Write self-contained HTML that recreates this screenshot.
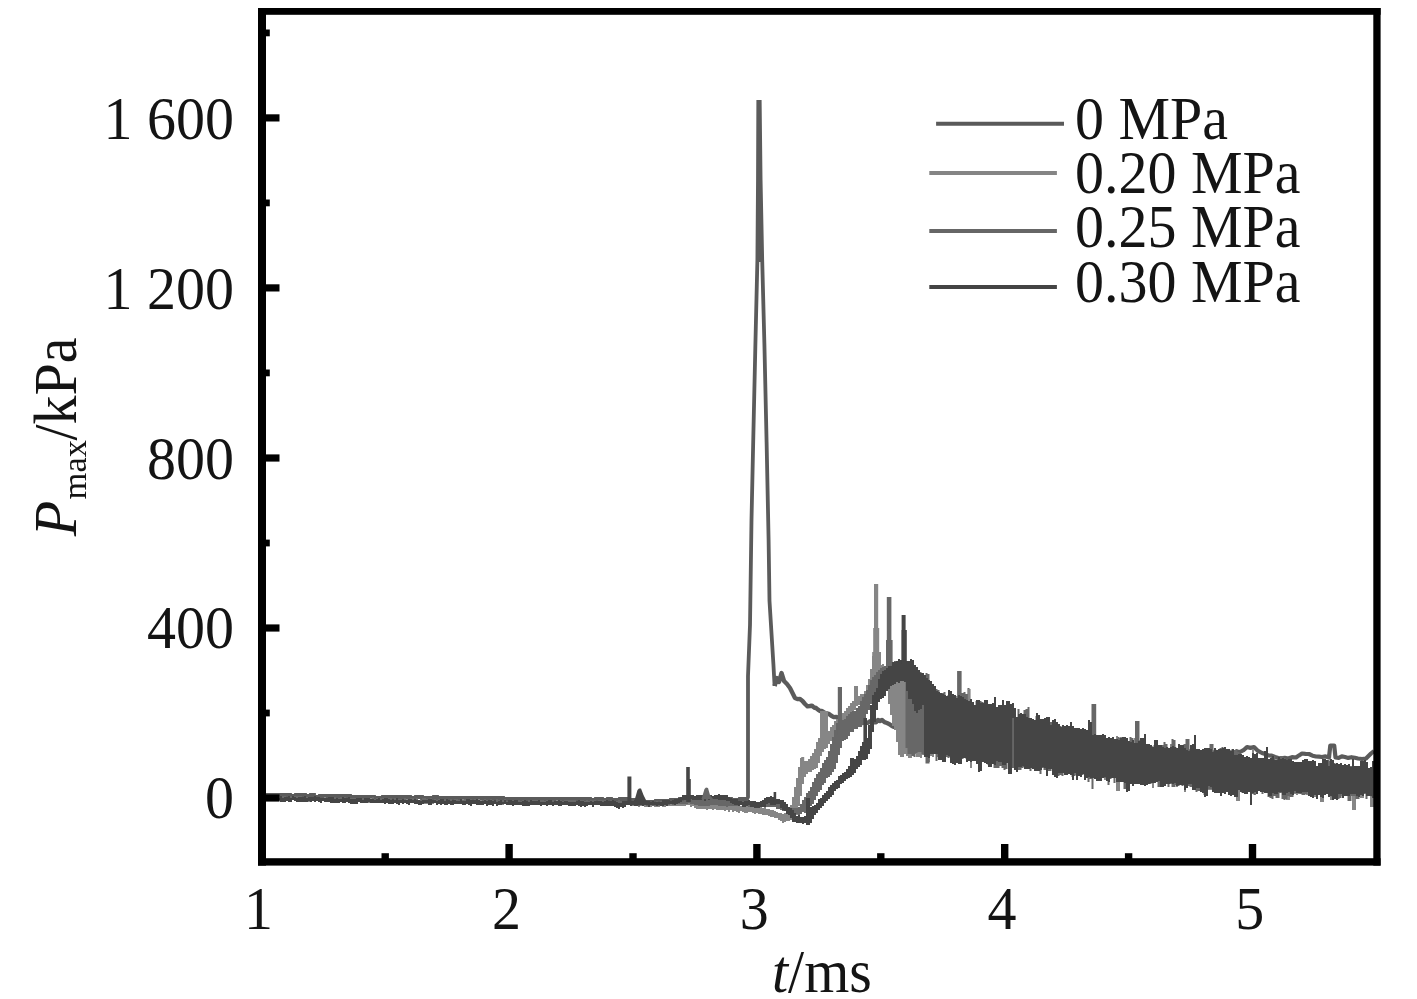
<!DOCTYPE html>
<html lang="en">
<head>
<meta charset="utf-8">
<title>Pmax versus t</title>
<style>
html,body{margin:0;padding:0;background:#fff;}
body{width:1417px;height:999px;overflow:hidden;}
svg{display:block;}
</style>
</head>
<body>
<svg width="1417" height="999" viewBox="0 0 1417 999" font-family='"Liberation Serif", "Times New Roman", serif' font-size="58" fill="#141414">
<rect x="0" y="0" width="1417" height="999" fill="#ffffff"/>
<g>
<polygon points="757.0,262.0 757.6,180.0 758.3,101.0 759.7,101.0 761.0,180.0 762.6,262.0" fill="#5b5b5b"/>
<polyline points="266.0,795.0 269.0,795.0 269.0,795.0 272.0,795.0 272.0,796.0 275.0,796.0 275.0,795.0 278.0,795.0 278.0,795.0 281.0,795.0 281.0,795.0 284.0,795.0 284.0,795.0 287.0,795.0 287.0,795.0 290.0,795.0 290.0,796.0 293.0,796.0 293.0,796.0 296.0,796.0 296.0,795.0 299.0,795.0 299.0,795.0 302.0,795.0 302.0,795.0 305.0,795.0 305.0,796.0 308.0,796.0 308.0,796.0 311.0,796.0 311.0,795.0 314.0,795.0 314.0,797.0 317.0,797.0 317.0,797.0 320.0,797.0 320.0,796.0 323.0,796.0 323.0,796.0 326.0,796.0 326.0,796.0 329.0,796.0 329.0,796.0 332.0,796.0 332.0,796.0 335.0,796.0 335.0,796.0 338.0,796.0 338.0,796.0 341.0,796.0 341.0,796.0 344.0,796.0 344.0,796.0 347.0,796.0 347.0,796.0 350.0,796.0 350.0,797.0 353.0,797.0 353.0,797.0 356.0,797.0 356.0,797.0 359.0,797.0 359.0,797.0 362.0,797.0 362.0,797.0 365.0,797.0 365.0,797.0 368.0,797.0 368.0,797.0 371.0,797.0 371.0,797.0 374.0,797.0 374.0,798.0 377.0,798.0 377.0,798.0 380.0,798.0 380.0,798.0 383.0,798.0 383.0,797.0 386.0,797.0 386.0,797.0 389.0,797.0 389.0,797.0 392.0,797.0 392.0,797.0 395.0,797.0 395.0,797.0 398.0,797.0 398.0,798.0 401.0,798.0 401.0,797.0 404.0,797.0 404.0,798.0 407.0,798.0 407.0,797.0 410.0,797.0 410.0,798.0 413.0,798.0 413.0,798.0 416.0,798.0 416.0,797.0 419.0,797.0 419.0,797.0 422.0,797.0 422.0,798.0 425.0,798.0 425.0,798.0 428.0,798.0 428.0,798.0 431.0,798.0 431.0,798.0 434.0,798.0 434.0,797.0 437.0,797.0 437.0,798.0 440.0,798.0 440.0,798.0 443.0,798.0 443.0,798.0 446.0,798.0 446.0,798.0 449.0,798.0 449.0,798.0 452.0,798.0 452.0,799.0 455.0,799.0 455.0,798.0 458.0,798.0 458.0,798.0 461.0,798.0 461.0,798.0 464.0,798.0 464.0,798.0 467.0,798.0 467.0,798.0 470.0,798.0 470.0,799.0 473.0,799.0 473.0,798.0 476.0,798.0 476.0,799.0 479.0,799.0 479.0,798.0 482.0,798.0 482.0,798.0 485.0,798.0 485.0,799.0 488.0,799.0 488.0,798.0 491.0,798.0 491.0,799.0 494.0,799.0 494.0,798.0 497.0,798.0 497.0,799.0 500.0,799.0 500.0,798.0 503.0,798.0 503.0,799.0 506.0,799.0 506.0,799.0 509.0,799.0 509.0,799.0 512.0,799.0 512.0,799.0 515.0,799.0 515.0,799.0 518.0,799.0 518.0,799.0 521.0,799.0 521.0,799.0 524.0,799.0 524.0,799.0 527.0,799.0 527.0,799.0 530.0,799.0 530.0,799.0 533.0,799.0 533.0,800.0 536.0,800.0 536.0,799.0 539.0,799.0 539.0,799.0 542.0,799.0 542.0,799.0 545.0,799.0 545.0,799.0 548.0,799.0 548.0,799.0 551.0,799.0 551.0,799.0 554.0,799.0 554.0,799.0 557.0,799.0 557.0,799.0 560.0,799.0 560.0,799.0 563.0,799.0 563.0,799.0 566.0,799.0 566.0,799.0 569.0,799.0 569.0,799.0 572.0,799.0 572.0,800.0 575.0,800.0 575.0,799.0 578.0,799.0 578.0,799.0 581.0,799.0 581.0,800.0 584.0,800.0 584.0,799.0 587.0,799.0 587.0,799.0 590.0,799.0 590.0,800.0 593.0,800.0 593.0,800.0 596.0,800.0 596.0,799.0 599.0,799.0 599.0,799.0 602.0,799.0 602.0,800.0 605.0,800.0 605.0,800.0 608.0,800.0 608.0,799.0 611.0,799.0 611.0,800.0 614.0,800.0 614.0,800.0 617.0,800.0 617.0,800.0 620.0,800.0 620.0,799.0 623.0,799.0 623.0,799.0 626.0,799.0 626.0,799.0 629.0,799.0 629.0,801.0 632.0,801.0 632.0,800.0 635.0,800.0 635.0,801.0 638.0,801.0 638.0,801.0 641.0,801.0 641.0,802.0 644.0,802.0 644.0,802.0 647.0,802.0 647.0,802.0 650.0,802.0 650.0,802.0 653.0,802.0 653.0,802.0 656.0,802.0 656.0,801.0 659.0,801.0 659.0,801.0 662.0,801.0 662.0,801.0 665.0,801.0 665.0,801.0 668.0,801.0 668.0,801.0 671.0,801.0 671.0,800.0 674.0,800.0 674.0,801.0 677.0,801.0 677.0,800.0 680.0,800.0 680.0,799.0 683.0,799.0 683.0,800.0 686.0,800.0 686.0,800.0 689.0,800.0 689.0,799.0 692.0,799.0 692.0,799.0 695.0,799.0 695.0,799.0 698.0,799.0 698.0,799.0 701.0,799.0 701.0,799.0 704.0,799.0 704.0,799.0 707.0,799.0 707.0,800.0 710.0,800.0 710.0,800.0 713.0,800.0 713.0,799.0 716.0,799.0 716.0,799.0 719.0,799.0 719.0,799.0 722.0,799.0 722.0,799.0 725.0,799.0 725.0,799.0 728.0,799.0 728.0,799.0 731.0,799.0 731.0,800.0 734.0,800.0 734.0,800.0 737.0,800.0 737.0,800.0 740.0,800.0 740.0,799.0 743.0,799.0 743.0,800.0 746.0,800.0 746.0,799.0 747.0,799.0 748.0,797.0 748.0,676.0 750.0,625.0 751.5,520.0 753.2,442.0 755.4,344.0 757.4,260.0 758.0,180.0 758.3,102.0 759.7,102.0 760.6,180.0 762.2,260.0 764.4,344.0 766.6,442.0 768.6,540.0 769.5,601.0 773.4,664.0 774.6,686.0" fill="none" stroke="#5b5b5b" stroke-width="3.8" stroke-linejoin="miter" stroke-miterlimit="2" stroke-linecap="butt"/>
<polyline points="774.6,686.0 777.0,678.0 779.0,682.0 781.5,673.0 784.0,681.0 787.0,684.0 790.0,688.0 793.0,694.0 795.0,698.0 797.5,699.1 800.0,699.0 802.5,701.0 805.0,704.0 807.5,706.3 810.0,706.0 812.0,705.6 814.0,707.5 816.0,708.0 818.0,709.6 820.0,711.0 822.0,711.0 824.3,712.6 826.7,713.5 829.0,714.0 831.3,715.8 833.7,717.1 836.0,717.0 838.3,717.6 840.7,719.5 843.0,720.0 845.3,721.4 847.7,721.6 850.0,721.0 852.0,721.1 854.0,722.4 856.0,722.9 858.0,722.5 860.0,723.0 862.0,723.0 864.0,722.5 866.0,722.9 868.0,722.8 870.0,721.2 872.0,722.5 874.0,722.0 876.0,722.3 878.0,720.0 880.0,721.0 882.0,720.0 884.5,722.1 887.0,723.0 889.5,724.2 892.0,726.0 894.0,726.9 896.0,726.7 898.0,726.6 900.0,727.0" fill="none" stroke="#5b5b5b" stroke-width="4.4" stroke-linejoin="round" stroke-miterlimit="2" stroke-linecap="butt"/>
<polyline points="900.0,727.0 903.0,727.9 906.1,726.9 909.1,728.4 912.1,727.4 915.2,728.7 918.2,728.8 921.2,728.6 924.2,729.8 927.3,729.7 930.3,730.2 933.3,731.1 936.4,730.2 939.4,730.1 942.4,730.9 945.5,731.9 948.5,731.3 951.5,731.6 954.5,733.2 957.6,733.0 960.6,733.0 963.6,734.1 966.7,733.4 969.7,734.3 972.7,733.7 975.8,734.5 978.8,735.4 981.8,735.9 984.8,736.2 987.9,735.6 990.9,736.2 993.9,736.1 997.0,736.0 1000.0,737.0 1003.0,737.2 1006.1,738.1 1009.1,738.4 1012.1,738.3 1015.2,739.0 1018.2,738.1 1021.2,738.1 1024.2,738.9 1027.3,738.8 1030.3,738.9 1033.3,739.5 1036.4,740.1 1039.4,740.1 1042.4,740.1 1045.5,741.2 1048.5,741.7 1051.5,741.0 1054.5,740.6 1057.6,740.8 1060.6,742.5 1063.6,741.3 1066.7,742.7 1069.7,742.7 1072.7,742.5 1075.8,743.6 1078.8,742.4 1081.8,742.9 1084.8,743.7 1087.9,743.2 1090.9,744.9 1093.9,744.0 1097.0,744.1 1100.0,745.0 1103.0,744.4 1106.1,745.7 1109.1,745.5 1112.1,746.1 1115.2,746.3 1118.2,746.8 1121.2,747.3 1124.2,747.0 1127.3,746.4 1130.3,747.1 1133.3,746.8 1136.4,746.7 1139.4,747.7 1142.4,748.4 1145.5,747.6 1148.5,748.0 1151.5,748.3 1154.5,749.2 1157.6,749.1 1160.6,749.4 1163.6,749.9 1166.7,749.5 1169.7,750.4 1172.7,750.8 1175.8,749.6 1178.8,751.3 1181.8,751.1 1184.8,750.3 1187.9,751.1 1190.9,751.6 1193.9,752.3 1197.0,751.6 1200.0,752.0 1203.1,752.1 1206.2,752.7 1209.2,752.5 1212.3,752.8 1215.4,751.9 1218.5,752.3 1221.5,751.5 1224.6,752.4 1227.7,752.6 1230.8,752.3 1233.8,752.4 1236.9,751.5 1240.0,752.0 1243.5,750.2 1247.0,747.0 1250.5,747.9 1254.0,747.0 1258.0,750.9 1262.0,753.0 1265.2,754.1 1268.5,755.5 1271.8,755.7 1275.0,757.0 1278.2,758.1 1281.5,758.4 1284.8,757.9 1288.0,758.5 1292.0,757.2 1296.0,757.5 1299.0,755.4 1302.0,753.5 1305.5,753.8 1309.0,754.0 1312.5,755.7 1316.0,756.5 1319.0,756.7 1322.0,757.0 1325.5,756.4 1329.0,757.5 1330.3,745.5 1334.2,745.5 1335.5,757.5 1338.7,757.9 1341.8,756.4 1345.0,757.0 1348.2,757.9 1351.5,757.2 1354.8,757.8 1358.0,758.5 1362.0,759.0 1366.0,758.5 1371.0,753.5 1374.0,751.0" fill="none" stroke="#5b5b5b" stroke-width="4.2" stroke-linejoin="round" stroke-miterlimit="2" stroke-linecap="butt"/>
<polygon points="266.0,796.0 268.0,796.0 268.0,797.0 270.0,797.0 270.0,797.0 272.0,797.0 272.0,798.0 274.0,798.0 274.0,798.0 276.0,798.0 276.0,796.0 278.0,796.0 278.0,797.0 280.0,797.0 280.0,797.0 282.0,797.0 282.0,798.0 284.0,798.0 284.0,797.0 286.0,797.0 286.0,798.0 288.0,798.0 288.0,797.0 290.0,797.0 290.0,798.0 292.0,798.0 292.0,797.0 294.0,797.0 294.0,797.0 296.0,797.0 296.0,797.0 298.0,797.0 298.0,798.0 300.0,798.0 300.0,797.0 302.0,797.0 302.0,798.0 304.0,798.0 304.0,798.0 306.0,798.0 306.0,798.0 308.0,798.0 308.0,798.0 310.0,798.0 310.0,797.0 312.0,797.0 312.0,797.0 314.0,797.0 314.0,798.0 316.0,798.0 316.0,798.0 318.0,798.0 318.0,797.0 320.0,797.0 320.0,799.0 322.0,799.0 322.0,798.0 324.0,798.0 324.0,797.0 326.0,797.0 326.0,798.0 328.0,798.0 328.0,798.0 330.0,798.0 330.0,797.0 332.0,797.0 332.0,797.0 334.0,797.0 334.0,798.0 336.0,798.0 336.0,798.0 338.0,798.0 338.0,798.0 340.0,798.0 340.0,798.0 342.0,798.0 342.0,798.0 344.0,798.0 344.0,798.0 346.0,798.0 346.0,799.0 348.0,799.0 348.0,799.0 350.0,799.0 350.0,799.0 352.0,799.0 352.0,799.0 354.0,799.0 354.0,798.0 356.0,798.0 356.0,798.0 358.0,798.0 358.0,799.0 360.0,799.0 360.0,798.0 362.0,798.0 362.0,798.0 364.0,798.0 364.0,799.0 366.0,799.0 366.0,799.0 368.0,799.0 368.0,798.0 370.0,798.0 370.0,798.0 372.0,798.0 372.0,799.0 374.0,799.0 374.0,800.0 376.0,800.0 376.0,799.0 378.0,799.0 378.0,799.0 380.0,799.0 380.0,798.0 382.0,798.0 382.0,798.0 384.0,798.0 384.0,799.0 386.0,799.0 386.0,799.0 388.0,799.0 388.0,798.0 390.0,798.0 390.0,800.0 392.0,800.0 392.0,800.0 394.0,800.0 394.0,798.0 396.0,798.0 396.0,799.0 398.0,799.0 398.0,799.0 400.0,799.0 400.0,799.0 402.0,799.0 402.0,799.0 404.0,799.0 404.0,800.0 406.0,800.0 406.0,799.0 408.0,799.0 408.0,800.0 410.0,800.0 410.0,799.0 412.0,799.0 412.0,799.0 414.0,799.0 414.0,800.0 416.0,800.0 416.0,800.0 418.0,800.0 418.0,800.0 420.0,800.0 420.0,800.0 422.0,800.0 422.0,800.0 424.0,800.0 424.0,799.0 426.0,799.0 426.0,800.0 428.0,800.0 428.0,800.0 430.0,800.0 430.0,800.0 432.0,800.0 432.0,800.0 434.0,800.0 434.0,800.0 436.0,800.0 436.0,800.0 438.0,800.0 438.0,799.0 440.0,799.0 440.0,799.0 442.0,799.0 442.0,800.0 444.0,800.0 444.0,799.0 446.0,799.0 446.0,800.0 448.0,800.0 448.0,800.0 450.0,800.0 450.0,800.0 452.0,800.0 452.0,801.0 454.0,801.0 454.0,800.0 456.0,800.0 456.0,801.0 458.0,801.0 458.0,800.0 460.0,800.0 460.0,800.0 462.0,800.0 462.0,799.0 464.0,799.0 464.0,800.0 466.0,800.0 466.0,800.0 468.0,800.0 468.0,800.0 470.0,800.0 470.0,801.0 472.0,801.0 472.0,801.0 474.0,801.0 474.0,801.0 476.0,801.0 476.0,800.0 478.0,800.0 478.0,799.0 480.0,799.0 480.0,800.0 482.0,800.0 482.0,800.0 484.0,800.0 484.0,801.0 486.0,801.0 486.0,801.0 488.0,801.0 488.0,800.0 490.0,800.0 490.0,800.0 492.0,800.0 492.0,801.0 494.0,801.0 494.0,800.0 496.0,800.0 496.0,800.0 498.0,800.0 498.0,800.0 500.0,800.0 500.0,800.0 502.0,800.0 502.0,800.0 504.0,800.0 504.0,801.0 506.0,801.0 506.0,801.0 508.0,801.0 508.0,800.0 510.0,800.0 510.0,800.0 512.0,800.0 512.0,802.0 514.0,802.0 514.0,801.0 516.0,801.0 516.0,801.0 518.0,801.0 518.0,802.0 520.0,802.0 520.0,801.0 522.0,801.0 522.0,801.0 524.0,801.0 524.0,800.0 526.0,800.0 526.0,801.0 528.0,801.0 528.0,801.0 530.0,801.0 530.0,801.0 532.0,801.0 532.0,801.0 534.0,801.0 534.0,801.0 536.0,801.0 536.0,802.0 538.0,802.0 538.0,801.0 540.0,801.0 540.0,800.0 542.0,800.0 542.0,801.0 544.0,801.0 544.0,801.0 546.0,801.0 546.0,801.0 548.0,801.0 548.0,801.0 550.0,801.0 550.0,801.0 552.0,801.0 552.0,800.0 554.0,800.0 554.0,802.0 556.0,802.0 556.0,800.0 558.0,800.0 558.0,801.0 560.0,801.0 560.0,801.0 562.0,801.0 562.0,801.0 564.0,801.0 564.0,800.0 566.0,800.0 566.0,801.0 568.0,801.0 568.0,801.0 570.0,801.0 570.0,800.0 572.0,800.0 572.0,801.0 574.0,801.0 574.0,800.0 576.0,800.0 576.0,802.0 578.0,802.0 578.0,802.0 580.0,802.0 580.0,801.0 582.0,801.0 582.0,802.0 584.0,802.0 584.0,801.0 586.0,801.0 586.0,801.0 588.0,801.0 588.0,802.0 590.0,802.0 590.0,801.0 592.0,801.0 592.0,800.0 594.0,800.0 594.0,800.0 596.0,800.0 596.0,801.0 598.0,801.0 598.0,801.0 600.0,801.0 600.0,802.0 602.0,802.0 602.0,801.0 604.0,801.0 604.0,800.0 606.0,800.0 606.0,802.0 608.0,802.0 608.0,801.0 610.0,801.0 610.0,801.0 612.0,801.0 612.0,801.0 614.0,801.0 614.0,802.0 616.0,802.0 616.0,802.0 618.0,802.0 618.0,802.0 620.0,802.0 620.0,802.0 622.0,802.0 622.0,801.0 624.0,801.0 624.0,802.0 626.0,802.0 626.0,801.0 628.0,801.0 628.0,802.0 630.0,802.0 630.0,802.0 632.0,802.0 632.0,802.0 634.0,802.0 634.0,803.0 636.0,803.0 636.0,803.0 638.0,803.0 638.0,802.0 640.0,802.0 640.0,803.0 642.0,803.0 642.0,802.0 644.0,802.0 644.0,803.0 646.0,803.0 646.0,804.0 648.0,804.0 648.0,804.0 650.0,804.0 650.0,803.0 652.0,803.0 652.0,802.0 654.0,802.0 654.0,803.0 656.0,803.0 656.0,802.0 658.0,802.0 658.0,802.0 660.0,802.0 660.0,803.0 662.0,803.0 662.0,802.0 664.0,802.0 664.0,803.0 666.0,803.0 666.0,802.0 668.0,802.0 668.0,803.0 670.0,803.0 670.0,802.0 672.0,802.0 672.0,803.0 674.0,803.0 674.0,803.0 676.0,803.0 676.0,803.0 678.0,803.0 678.0,803.0 680.0,803.0 680.0,803.0 682.0,803.0 682.0,803.0 684.0,803.0 684.0,802.0 686.0,802.0 686.0,802.0 688.0,802.0 688.0,802.0 690.0,802.0 690.0,802.0 692.0,802.0 692.0,802.0 694.0,802.0 694.0,802.0 696.0,802.0 696.0,802.0 698.0,802.0 698.0,802.0 700.0,802.0 700.0,802.0 702.0,802.0 702.0,804.0 704.0,804.0 704.0,802.0 706.0,802.0 706.0,804.0 708.0,804.0 708.0,803.0 710.0,803.0 710.0,803.0 712.0,803.0 712.0,803.0 714.0,803.0 714.0,804.0 716.0,804.0 716.0,803.0 718.0,803.0 718.0,803.0 720.0,803.0 720.0,804.0 722.0,804.0 722.0,805.0 724.0,805.0 724.0,804.0 726.0,804.0 726.0,805.0 728.0,805.0 728.0,805.0 730.0,805.0 730.0,805.0 732.0,805.0 732.0,804.0 734.0,804.0 734.0,805.0 736.0,805.0 736.0,805.0 738.0,805.0 738.0,805.0 740.0,805.0 740.0,806.0 742.0,806.0 742.0,805.0 744.0,805.0 744.0,805.0 746.0,805.0 746.0,806.0 748.0,806.0 748.0,805.0 750.0,805.0 750.0,806.0 752.0,806.0 752.0,807.0 754.0,807.0 754.0,807.0 756.0,807.0 756.0,806.0 758.0,806.0 758.0,806.0 760.0,806.0 760.0,806.0 762.0,806.0 762.0,808.0 764.0,808.0 764.0,807.0 766.0,807.0 766.0,809.0 768.0,809.0 768.0,809.0 770.0,809.0 770.0,810.0 772.0,810.0 772.0,810.0 774.0,810.0 774.0,811.0 776.0,811.0 776.0,812.0 778.0,812.0 778.0,813.0 780.0,813.0 780.0,813.0 782.0,813.0 782.0,814.0 784.0,814.0 784.0,813.0 786.0,813.0 786.0,811.0 788.0,811.0 788.0,809.0 790.0,809.0 790.0,805.0 792.0,805.0 792.0,797.0 794.0,797.0 794.0,787.0 796.0,787.0 796.0,778.0 798.0,778.0 798.0,767.0 800.0,767.0 800.0,758.0 802.0,758.0 802.0,757.0 804.0,757.0 804.0,761.0 806.0,761.0 806.0,761.0 808.0,761.0 808.0,759.0 810.0,759.0 810.0,756.0 812.0,756.0 812.0,753.0 814.0,753.0 814.0,749.0 816.0,749.0 816.0,742.0 818.0,742.0 818.0,738.0 820.0,738.0 820.0,711.0 822.0,711.0 822.0,711.0 824.0,711.0 824.0,711.0 826.0,711.0 826.0,711.0 828.0,711.0 828.0,731.0 830.0,731.0 830.0,727.0 832.0,727.0 832.0,725.0 834.0,725.0 834.0,721.0 836.0,721.0 836.0,719.0 838.0,719.0 838.0,717.0 840.0,717.0 840.0,715.0 842.0,715.0 842.0,713.0 844.0,713.0 844.0,711.0 846.0,711.0 846.0,708.0 848.0,708.0 848.0,706.0 850.0,706.0 850.0,703.0 852.0,703.0 852.0,701.0 854.0,701.0 854.0,686.0 856.0,686.0 856.0,686.0 858.0,686.0 858.0,696.0 860.0,696.0 860.0,694.0 862.0,694.0 862.0,694.0 864.0,694.0 864.0,691.0 866.0,691.0 866.0,685.0 868.0,685.0 868.0,679.0 870.0,679.0 870.0,669.0 872.0,669.0 872.0,656.0 874.0,656.0 874.0,584.0 876.0,584.0 876.0,584.0 878.0,584.0 878.0,656.0 880.0,656.0 880.0,665.0 882.0,665.0 882.0,664.0 884.0,664.0 884.0,666.0 886.0,666.0 886.0,667.0 888.0,667.0 888.0,668.0 890.0,668.0 890.0,670.0 892.0,670.0 892.0,680.0 890.0,680.0 890.0,677.0 888.0,677.0 888.0,676.0 886.0,676.0 886.0,674.0 884.0,674.0 884.0,672.0 882.0,672.0 882.0,671.0 880.0,671.0 880.0,672.0 878.0,672.0 878.0,674.0 876.0,674.0 876.0,680.0 874.0,680.0 874.0,691.0 872.0,691.0 872.0,698.0 870.0,698.0 870.0,701.0 868.0,701.0 868.0,702.0 866.0,702.0 866.0,703.0 864.0,703.0 864.0,704.0 862.0,704.0 862.0,704.0 860.0,704.0 860.0,705.0 858.0,705.0 858.0,706.0 856.0,706.0 856.0,710.0 854.0,710.0 854.0,713.0 852.0,713.0 852.0,715.0 850.0,715.0 850.0,716.0 848.0,716.0 848.0,719.0 846.0,719.0 846.0,723.0 844.0,723.0 844.0,725.0 842.0,725.0 842.0,727.0 840.0,727.0 840.0,729.0 838.0,729.0 838.0,732.0 836.0,732.0 836.0,735.0 834.0,735.0 834.0,739.0 832.0,739.0 832.0,741.0 830.0,741.0 830.0,744.0 828.0,744.0 828.0,748.0 826.0,748.0 826.0,749.0 824.0,749.0 824.0,752.0 822.0,752.0 822.0,756.0 820.0,756.0 820.0,763.0 818.0,763.0 818.0,768.0 816.0,768.0 816.0,769.0 814.0,769.0 814.0,770.0 812.0,770.0 812.0,772.0 810.0,772.0 810.0,772.0 808.0,772.0 808.0,774.0 806.0,774.0 806.0,777.0 804.0,777.0 804.0,784.0 802.0,784.0 802.0,796.0 800.0,796.0 800.0,806.0 798.0,806.0 798.0,815.0 796.0,815.0 796.0,822.0 794.0,822.0 794.0,821.0 792.0,821.0 792.0,820.0 790.0,820.0 790.0,821.0 788.0,821.0 788.0,821.0 786.0,821.0 786.0,822.0 784.0,822.0 784.0,823.0 782.0,823.0 782.0,821.0 780.0,821.0 780.0,820.0 778.0,820.0 778.0,818.0 776.0,818.0 776.0,818.0 774.0,818.0 774.0,817.0 772.0,817.0 772.0,817.0 770.0,817.0 770.0,816.0 768.0,816.0 768.0,815.0 766.0,815.0 766.0,815.0 764.0,815.0 764.0,815.0 762.0,815.0 762.0,814.0 760.0,814.0 760.0,814.0 758.0,814.0 758.0,813.0 756.0,813.0 756.0,814.0 754.0,814.0 754.0,813.0 752.0,813.0 752.0,812.0 750.0,812.0 750.0,812.0 748.0,812.0 748.0,813.0 746.0,813.0 746.0,813.0 744.0,813.0 744.0,812.0 742.0,812.0 742.0,811.0 740.0,811.0 740.0,813.0 738.0,813.0 738.0,812.0 736.0,812.0 736.0,811.0 734.0,811.0 734.0,812.0 732.0,812.0 732.0,810.0 730.0,810.0 730.0,812.0 728.0,812.0 728.0,810.0 726.0,810.0 726.0,811.0 724.0,811.0 724.0,810.0 722.0,810.0 722.0,810.0 720.0,810.0 720.0,810.0 718.0,810.0 718.0,810.0 716.0,810.0 716.0,809.0 714.0,809.0 714.0,810.0 712.0,810.0 712.0,809.0 710.0,809.0 710.0,809.0 708.0,809.0 708.0,810.0 706.0,810.0 706.0,809.0 704.0,809.0 704.0,809.0 702.0,809.0 702.0,809.0 700.0,809.0 700.0,809.0 698.0,809.0 698.0,809.0 696.0,809.0 696.0,808.0 694.0,808.0 694.0,806.0 692.0,806.0 692.0,807.0 690.0,807.0 690.0,805.0 688.0,805.0 688.0,805.0 686.0,805.0 686.0,806.0 684.0,806.0 684.0,806.0 682.0,806.0 682.0,806.0 680.0,806.0 680.0,806.0 678.0,806.0 678.0,806.0 676.0,806.0 676.0,806.0 674.0,806.0 674.0,806.0 672.0,806.0 672.0,806.0 670.0,806.0 670.0,806.0 668.0,806.0 668.0,806.0 666.0,806.0 666.0,807.0 664.0,807.0 664.0,807.0 662.0,807.0 662.0,806.0 660.0,806.0 660.0,807.0 658.0,807.0 658.0,807.0 656.0,807.0 656.0,807.0 654.0,807.0 654.0,806.0 652.0,806.0 652.0,807.0 650.0,807.0 650.0,806.0 648.0,806.0 648.0,807.0 646.0,807.0 646.0,807.0 644.0,807.0 644.0,806.0 642.0,806.0 642.0,806.0 640.0,806.0 640.0,807.0 638.0,807.0 638.0,806.0 636.0,806.0 636.0,806.0 634.0,806.0 634.0,806.0 632.0,806.0 632.0,805.0 630.0,805.0 630.0,805.0 628.0,805.0 628.0,805.0 626.0,805.0 626.0,806.0 624.0,806.0 624.0,805.0 622.0,805.0 622.0,805.0 620.0,805.0 620.0,805.0 618.0,805.0 618.0,806.0 616.0,806.0 616.0,805.0 614.0,805.0 614.0,804.0 612.0,804.0 612.0,805.0 610.0,805.0 610.0,804.0 608.0,804.0 608.0,805.0 606.0,805.0 606.0,804.0 604.0,804.0 604.0,805.0 602.0,805.0 602.0,804.0 600.0,804.0 600.0,804.0 598.0,804.0 598.0,805.0 596.0,805.0 596.0,804.0 594.0,804.0 594.0,805.0 592.0,805.0 592.0,804.0 590.0,804.0 590.0,805.0 588.0,805.0 588.0,805.0 586.0,805.0 586.0,805.0 584.0,805.0 584.0,804.0 582.0,804.0 582.0,804.0 580.0,804.0 580.0,804.0 578.0,804.0 578.0,805.0 576.0,805.0 576.0,804.0 574.0,804.0 574.0,805.0 572.0,805.0 572.0,804.0 570.0,804.0 570.0,804.0 568.0,804.0 568.0,805.0 566.0,805.0 566.0,805.0 564.0,805.0 564.0,804.0 562.0,804.0 562.0,804.0 560.0,804.0 560.0,804.0 558.0,804.0 558.0,804.0 556.0,804.0 556.0,805.0 554.0,805.0 554.0,805.0 552.0,805.0 552.0,804.0 550.0,804.0 550.0,805.0 548.0,805.0 548.0,805.0 546.0,805.0 546.0,804.0 544.0,804.0 544.0,805.0 542.0,805.0 542.0,805.0 540.0,805.0 540.0,804.0 538.0,804.0 538.0,805.0 536.0,805.0 536.0,804.0 534.0,804.0 534.0,804.0 532.0,804.0 532.0,804.0 530.0,804.0 530.0,805.0 528.0,805.0 528.0,804.0 526.0,804.0 526.0,803.0 524.0,803.0 524.0,804.0 522.0,804.0 522.0,804.0 520.0,804.0 520.0,805.0 518.0,805.0 518.0,804.0 516.0,804.0 516.0,805.0 514.0,805.0 514.0,804.0 512.0,804.0 512.0,804.0 510.0,804.0 510.0,805.0 508.0,805.0 508.0,805.0 506.0,805.0 506.0,803.0 504.0,803.0 504.0,805.0 502.0,805.0 502.0,804.0 500.0,804.0 500.0,803.0 498.0,803.0 498.0,803.0 496.0,803.0 496.0,804.0 494.0,804.0 494.0,804.0 492.0,804.0 492.0,804.0 490.0,804.0 490.0,804.0 488.0,804.0 488.0,804.0 486.0,804.0 486.0,803.0 484.0,803.0 484.0,804.0 482.0,804.0 482.0,804.0 480.0,804.0 480.0,805.0 478.0,805.0 478.0,804.0 476.0,804.0 476.0,803.0 474.0,803.0 474.0,804.0 472.0,804.0 472.0,804.0 470.0,804.0 470.0,804.0 468.0,804.0 468.0,804.0 466.0,804.0 466.0,803.0 464.0,803.0 464.0,803.0 462.0,803.0 462.0,803.0 460.0,803.0 460.0,804.0 458.0,804.0 458.0,803.0 456.0,803.0 456.0,804.0 454.0,804.0 454.0,804.0 452.0,804.0 452.0,803.0 450.0,803.0 450.0,804.0 448.0,804.0 448.0,803.0 446.0,803.0 446.0,804.0 444.0,804.0 444.0,804.0 442.0,804.0 442.0,803.0 440.0,803.0 440.0,803.0 438.0,803.0 438.0,802.0 436.0,802.0 436.0,803.0 434.0,803.0 434.0,804.0 432.0,804.0 432.0,804.0 430.0,804.0 430.0,803.0 428.0,803.0 428.0,804.0 426.0,804.0 426.0,804.0 424.0,804.0 424.0,804.0 422.0,804.0 422.0,803.0 420.0,803.0 420.0,803.0 418.0,803.0 418.0,804.0 416.0,804.0 416.0,803.0 414.0,803.0 414.0,802.0 412.0,802.0 412.0,802.0 410.0,802.0 410.0,803.0 408.0,803.0 408.0,803.0 406.0,803.0 406.0,803.0 404.0,803.0 404.0,802.0 402.0,802.0 402.0,803.0 400.0,803.0 400.0,803.0 398.0,803.0 398.0,803.0 396.0,803.0 396.0,803.0 394.0,803.0 394.0,802.0 392.0,802.0 392.0,803.0 390.0,803.0 390.0,802.0 388.0,802.0 388.0,802.0 386.0,802.0 386.0,803.0 384.0,803.0 384.0,802.0 382.0,802.0 382.0,802.0 380.0,802.0 380.0,803.0 378.0,803.0 378.0,803.0 376.0,803.0 376.0,802.0 374.0,802.0 374.0,803.0 372.0,803.0 372.0,802.0 370.0,802.0 370.0,803.0 368.0,803.0 368.0,801.0 366.0,801.0 366.0,802.0 364.0,802.0 364.0,801.0 362.0,801.0 362.0,802.0 360.0,802.0 360.0,801.0 358.0,801.0 358.0,803.0 356.0,803.0 356.0,803.0 354.0,803.0 354.0,802.0 352.0,802.0 352.0,802.0 350.0,802.0 350.0,801.0 348.0,801.0 348.0,802.0 346.0,802.0 346.0,802.0 344.0,802.0 344.0,802.0 342.0,802.0 342.0,801.0 340.0,801.0 340.0,801.0 338.0,801.0 338.0,801.0 336.0,801.0 336.0,801.0 334.0,801.0 334.0,802.0 332.0,802.0 332.0,802.0 330.0,802.0 330.0,802.0 328.0,802.0 328.0,801.0 326.0,801.0 326.0,801.0 324.0,801.0 324.0,800.0 322.0,800.0 322.0,801.0 320.0,801.0 320.0,801.0 318.0,801.0 318.0,801.0 316.0,801.0 316.0,802.0 314.0,802.0 314.0,801.0 312.0,801.0 312.0,801.0 310.0,801.0 310.0,802.0 308.0,802.0 308.0,801.0 306.0,801.0 306.0,800.0 304.0,800.0 304.0,801.0 302.0,801.0 302.0,801.0 300.0,801.0 300.0,801.0 298.0,801.0 298.0,800.0 296.0,800.0 296.0,801.0 294.0,801.0 294.0,800.0 292.0,800.0 292.0,801.0 290.0,801.0 290.0,801.0 288.0,801.0 288.0,801.0 286.0,801.0 286.0,800.0 284.0,800.0 284.0,801.0 282.0,801.0 282.0,801.0 280.0,801.0 280.0,801.0 278.0,801.0 278.0,801.0 276.0,801.0 276.0,800.0 274.0,800.0 274.0,800.0 272.0,800.0 272.0,801.0 270.0,801.0 270.0,801.0 268.0,801.0 268.0,800.0 266.0,800.0" fill="#868686"/>
<polygon points="888.0,667.0 890.0,667.0 890.0,667.0 892.0,667.0 892.0,670.0 894.0,670.0 894.0,675.0 896.0,675.0 896.0,677.0 898.0,677.0 898.0,673.0 900.0,673.0 900.0,677.0 902.0,677.0 902.0,678.0 904.0,678.0 904.0,677.0 906.0,677.0 906.0,679.0 908.0,679.0 908.0,680.0 910.0,680.0 910.0,678.0 912.0,678.0 912.0,679.0 914.0,679.0 914.0,680.0 916.0,680.0 916.0,683.0 918.0,683.0 918.0,684.0 920.0,684.0 920.0,687.0 922.0,687.0 922.0,686.0 924.0,686.0 924.0,686.0 926.0,686.0 926.0,692.0 928.0,692.0 928.0,694.0 930.0,694.0 930.0,695.0 932.0,695.0 932.0,695.0 934.0,695.0 934.0,696.0 936.0,696.0 936.0,693.0 938.0,693.0 938.0,696.0 940.0,696.0 940.0,700.0 942.0,700.0 942.0,702.0 944.0,702.0 944.0,697.0 946.0,697.0 946.0,698.0 948.0,698.0 948.0,694.0 950.0,694.0 950.0,694.0 952.0,694.0 952.0,695.0 954.0,695.0 954.0,696.0 956.0,696.0 956.0,696.0 958.0,696.0 958.0,696.0 960.0,696.0 960.0,704.0 962.0,704.0 962.0,706.0 964.0,706.0 964.0,705.0 966.0,705.0 966.0,707.0 968.0,707.0 968.0,708.0 970.0,708.0 970.0,706.0 972.0,706.0 972.0,707.0 974.0,707.0 974.0,707.0 976.0,707.0 976.0,709.0 978.0,709.0 978.0,711.0 980.0,711.0 980.0,709.0 982.0,709.0 982.0,712.0 984.0,712.0 984.0,706.0 986.0,706.0 986.0,708.0 988.0,708.0 988.0,708.0 990.0,708.0 990.0,709.0 992.0,709.0 992.0,713.0 994.0,713.0 994.0,709.0 996.0,709.0 996.0,712.0 998.0,712.0 998.0,712.0 1000.0,712.0 1000.0,711.0 1002.0,711.0 1002.0,712.0 1004.0,712.0 1004.0,716.0 1006.0,716.0 1006.0,716.0 1008.0,716.0 1008.0,716.0 1010.0,716.0 1010.0,717.0 1012.0,717.0 1012.0,716.0 1014.0,716.0 1014.0,717.0 1016.0,717.0 1016.0,718.0 1018.0,718.0 1018.0,718.0 1020.0,718.0 1020.0,719.0 1022.0,719.0 1022.0,722.0 1024.0,722.0 1024.0,717.0 1026.0,717.0 1026.0,718.0 1028.0,718.0 1028.0,719.0 1030.0,719.0 1030.0,724.0 1032.0,724.0 1032.0,724.0 1034.0,724.0 1034.0,725.0 1036.0,725.0 1036.0,723.0 1038.0,723.0 1038.0,727.0 1040.0,727.0 1040.0,725.0 1042.0,725.0 1042.0,726.0 1044.0,726.0 1044.0,721.0 1046.0,721.0 1046.0,722.0 1048.0,722.0 1048.0,729.0 1050.0,729.0 1050.0,729.0 1052.0,729.0 1052.0,727.0 1054.0,727.0 1054.0,729.0 1056.0,729.0 1056.0,730.0 1058.0,730.0 1058.0,729.0 1060.0,729.0 1060.0,730.0 1062.0,730.0 1062.0,729.0 1064.0,729.0 1064.0,730.0 1066.0,730.0 1066.0,735.0 1068.0,735.0 1068.0,728.0 1070.0,728.0 1070.0,728.0 1072.0,728.0 1072.0,728.0 1074.0,728.0 1074.0,729.0 1076.0,729.0 1076.0,731.0 1078.0,731.0 1078.0,732.0 1080.0,732.0 1080.0,737.0 1082.0,737.0 1082.0,736.0 1084.0,736.0 1084.0,737.0 1086.0,737.0 1086.0,738.0 1088.0,738.0 1088.0,730.0 1090.0,730.0 1090.0,741.0 1092.0,741.0 1092.0,740.0 1094.0,740.0 1094.0,741.0 1096.0,741.0 1096.0,743.0 1098.0,743.0 1098.0,740.0 1100.0,740.0 1100.0,741.0 1102.0,741.0 1102.0,744.0 1104.0,744.0 1104.0,744.0 1106.0,744.0 1106.0,744.0 1108.0,744.0 1108.0,744.0 1110.0,744.0 1110.0,742.0 1112.0,742.0 1112.0,741.0 1114.0,741.0 1114.0,746.0 1116.0,746.0 1116.0,736.0 1118.0,736.0 1118.0,738.0 1120.0,738.0 1120.0,737.0 1122.0,737.0 1122.0,739.0 1124.0,739.0 1124.0,747.0 1126.0,747.0 1126.0,745.0 1128.0,745.0 1128.0,746.0 1130.0,746.0 1130.0,749.0 1132.0,749.0 1132.0,749.0 1134.0,749.0 1134.0,738.0 1136.0,738.0 1136.0,738.0 1138.0,738.0 1138.0,740.0 1140.0,740.0 1140.0,741.0 1142.0,741.0 1142.0,747.0 1144.0,747.0 1144.0,746.0 1146.0,746.0 1146.0,747.0 1148.0,747.0 1148.0,749.0 1150.0,749.0 1150.0,749.0 1152.0,749.0 1152.0,749.0 1154.0,749.0 1154.0,746.0 1156.0,746.0 1156.0,748.0 1158.0,748.0 1158.0,748.0 1160.0,748.0 1160.0,746.0 1162.0,746.0 1162.0,747.0 1164.0,747.0 1164.0,751.0 1166.0,751.0 1166.0,751.0 1168.0,751.0 1168.0,751.0 1170.0,751.0 1170.0,744.0 1172.0,744.0 1172.0,744.0 1174.0,744.0 1174.0,753.0 1176.0,753.0 1176.0,753.0 1178.0,753.0 1178.0,753.0 1180.0,753.0 1180.0,753.0 1182.0,753.0 1182.0,755.0 1184.0,755.0 1184.0,756.0 1186.0,756.0 1186.0,755.0 1188.0,755.0 1188.0,756.0 1190.0,756.0 1190.0,755.0 1192.0,755.0 1192.0,753.0 1194.0,753.0 1194.0,755.0 1196.0,755.0 1196.0,755.0 1198.0,755.0 1198.0,758.0 1200.0,758.0 1200.0,751.0 1202.0,751.0 1202.0,758.0 1204.0,758.0 1204.0,748.0 1206.0,748.0 1206.0,748.0 1208.0,748.0 1208.0,755.0 1210.0,755.0 1210.0,757.0 1212.0,757.0 1212.0,757.0 1214.0,757.0 1214.0,759.0 1216.0,759.0 1216.0,753.0 1218.0,753.0 1218.0,754.0 1220.0,754.0 1220.0,754.0 1222.0,754.0 1222.0,754.0 1224.0,754.0 1224.0,754.0 1226.0,754.0 1226.0,759.0 1228.0,759.0 1228.0,760.0 1230.0,760.0 1230.0,762.0 1232.0,762.0 1232.0,763.0 1234.0,763.0 1234.0,762.0 1236.0,762.0 1236.0,757.0 1238.0,757.0 1238.0,757.0 1240.0,757.0 1240.0,759.0 1242.0,759.0 1242.0,758.0 1244.0,758.0 1244.0,759.0 1246.0,759.0 1246.0,765.0 1248.0,765.0 1248.0,762.0 1250.0,762.0 1250.0,763.0 1252.0,763.0 1252.0,749.0 1254.0,749.0 1254.0,765.0 1256.0,765.0 1256.0,764.0 1258.0,764.0 1258.0,762.0 1260.0,762.0 1260.0,762.0 1262.0,762.0 1262.0,764.0 1264.0,764.0 1264.0,764.0 1266.0,764.0 1266.0,765.0 1268.0,765.0 1268.0,765.0 1270.0,765.0 1270.0,765.0 1272.0,765.0 1272.0,760.0 1274.0,760.0 1274.0,760.0 1276.0,760.0 1276.0,767.0 1278.0,767.0 1278.0,765.0 1280.0,765.0 1280.0,766.0 1282.0,766.0 1282.0,764.0 1284.0,764.0 1284.0,765.0 1286.0,765.0 1286.0,769.0 1288.0,769.0 1288.0,766.0 1290.0,766.0 1290.0,767.0 1292.0,767.0 1292.0,763.0 1294.0,763.0 1294.0,763.0 1296.0,763.0 1296.0,766.0 1298.0,766.0 1298.0,766.0 1300.0,766.0 1300.0,763.0 1302.0,763.0 1302.0,762.0 1304.0,762.0 1304.0,763.0 1306.0,763.0 1306.0,762.0 1308.0,762.0 1308.0,763.0 1310.0,763.0 1310.0,761.0 1312.0,761.0 1312.0,763.0 1314.0,763.0 1314.0,769.0 1316.0,769.0 1316.0,768.0 1318.0,768.0 1318.0,767.0 1320.0,767.0 1320.0,766.0 1322.0,766.0 1322.0,769.0 1324.0,769.0 1324.0,769.0 1326.0,769.0 1326.0,770.0 1328.0,770.0 1328.0,770.0 1330.0,770.0 1330.0,771.0 1332.0,771.0 1332.0,767.0 1334.0,767.0 1334.0,767.0 1336.0,767.0 1336.0,768.0 1338.0,768.0 1338.0,768.0 1340.0,768.0 1340.0,768.0 1342.0,768.0 1342.0,770.0 1344.0,770.0 1344.0,768.0 1346.0,768.0 1346.0,767.0 1348.0,767.0 1348.0,767.0 1350.0,767.0 1350.0,772.0 1352.0,772.0 1352.0,770.0 1354.0,770.0 1354.0,770.0 1356.0,770.0 1356.0,770.0 1358.0,770.0 1358.0,768.0 1360.0,768.0 1360.0,767.0 1362.0,767.0 1362.0,768.0 1364.0,768.0 1364.0,774.0 1366.0,774.0 1366.0,770.0 1368.0,770.0 1368.0,768.0 1370.0,768.0 1370.0,767.0 1372.0,767.0 1372.0,768.0 1374.0,768.0 1374.0,807.0 1372.0,807.0 1372.0,807.0 1370.0,807.0 1370.0,791.0 1368.0,791.0 1368.0,795.0 1366.0,795.0 1366.0,794.0 1364.0,794.0 1364.0,798.0 1362.0,798.0 1362.0,798.0 1360.0,798.0 1360.0,791.0 1358.0,791.0 1358.0,791.0 1356.0,791.0 1356.0,810.0 1354.0,810.0 1354.0,810.0 1352.0,810.0 1352.0,796.0 1350.0,796.0 1350.0,791.0 1348.0,791.0 1348.0,792.0 1346.0,792.0 1346.0,792.0 1344.0,792.0 1344.0,792.0 1342.0,792.0 1342.0,796.0 1340.0,796.0 1340.0,792.0 1338.0,792.0 1338.0,794.0 1336.0,794.0 1336.0,791.0 1334.0,791.0 1334.0,800.0 1332.0,800.0 1332.0,800.0 1330.0,800.0 1330.0,791.0 1328.0,791.0 1328.0,791.0 1326.0,791.0 1326.0,794.0 1324.0,794.0 1324.0,802.0 1322.0,802.0 1322.0,802.0 1320.0,802.0 1320.0,790.0 1318.0,790.0 1318.0,795.0 1316.0,795.0 1316.0,797.0 1314.0,797.0 1314.0,794.0 1312.0,794.0 1312.0,793.0 1310.0,793.0 1310.0,793.0 1308.0,793.0 1308.0,795.0 1306.0,795.0 1306.0,794.0 1304.0,794.0 1304.0,795.0 1302.0,795.0 1302.0,794.0 1300.0,794.0 1300.0,794.0 1298.0,794.0 1298.0,795.0 1296.0,795.0 1296.0,794.0 1294.0,794.0 1294.0,790.0 1292.0,790.0 1292.0,789.0 1290.0,789.0 1290.0,800.0 1288.0,800.0 1288.0,800.0 1286.0,800.0 1286.0,794.0 1284.0,794.0 1284.0,794.0 1282.0,794.0 1282.0,790.0 1280.0,790.0 1280.0,789.0 1278.0,789.0 1278.0,789.0 1276.0,789.0 1276.0,792.0 1274.0,792.0 1274.0,793.0 1272.0,793.0 1272.0,795.0 1270.0,795.0 1270.0,791.0 1268.0,791.0 1268.0,791.0 1266.0,791.0 1266.0,788.0 1264.0,788.0 1264.0,788.0 1262.0,788.0 1262.0,790.0 1260.0,790.0 1260.0,789.0 1258.0,789.0 1258.0,789.0 1256.0,789.0 1256.0,795.0 1254.0,795.0 1254.0,788.0 1252.0,788.0 1252.0,789.0 1250.0,789.0 1250.0,792.0 1248.0,792.0 1248.0,792.0 1246.0,792.0 1246.0,787.0 1244.0,787.0 1244.0,791.0 1242.0,791.0 1242.0,789.0 1240.0,789.0 1240.0,801.0 1238.0,801.0 1238.0,801.0 1236.0,801.0 1236.0,790.0 1234.0,790.0 1234.0,790.0 1232.0,790.0 1232.0,787.0 1230.0,787.0 1230.0,785.0 1228.0,785.0 1228.0,787.0 1226.0,787.0 1226.0,786.0 1224.0,786.0 1224.0,787.0 1222.0,787.0 1222.0,788.0 1220.0,788.0 1220.0,785.0 1218.0,785.0 1218.0,788.0 1216.0,788.0 1216.0,786.0 1214.0,786.0 1214.0,791.0 1212.0,791.0 1212.0,790.0 1210.0,790.0 1210.0,790.0 1208.0,790.0 1208.0,787.0 1206.0,787.0 1206.0,787.0 1204.0,787.0 1204.0,788.0 1202.0,788.0 1202.0,789.0 1200.0,789.0 1200.0,785.0 1198.0,785.0 1198.0,785.0 1196.0,785.0 1196.0,789.0 1194.0,789.0 1194.0,790.0 1192.0,790.0 1192.0,784.0 1190.0,784.0 1190.0,784.0 1188.0,784.0 1188.0,786.0 1186.0,786.0 1186.0,792.0 1184.0,792.0 1184.0,785.0 1182.0,785.0 1182.0,783.0 1180.0,783.0 1180.0,783.0 1178.0,783.0 1178.0,787.0 1176.0,787.0 1176.0,785.0 1174.0,785.0 1174.0,784.0 1172.0,784.0 1172.0,781.0 1170.0,781.0 1170.0,782.0 1168.0,782.0 1168.0,782.0 1166.0,782.0 1166.0,782.0 1164.0,782.0 1164.0,782.0 1162.0,782.0 1162.0,784.0 1160.0,784.0 1160.0,782.0 1158.0,782.0 1158.0,782.0 1156.0,782.0 1156.0,782.0 1154.0,782.0 1154.0,788.0 1152.0,788.0 1152.0,781.0 1150.0,781.0 1150.0,780.0 1148.0,780.0 1148.0,784.0 1146.0,784.0 1146.0,783.0 1144.0,783.0 1144.0,778.0 1142.0,778.0 1142.0,777.0 1140.0,777.0 1140.0,778.0 1138.0,778.0 1138.0,777.0 1136.0,777.0 1136.0,784.0 1134.0,784.0 1134.0,785.0 1132.0,785.0 1132.0,780.0 1130.0,780.0 1130.0,777.0 1128.0,777.0 1128.0,777.0 1126.0,777.0 1126.0,777.0 1124.0,777.0 1124.0,778.0 1122.0,778.0 1122.0,777.0 1120.0,777.0 1120.0,791.0 1118.0,791.0 1118.0,791.0 1116.0,791.0 1116.0,776.0 1114.0,776.0 1114.0,774.0 1112.0,774.0 1112.0,774.0 1110.0,774.0 1110.0,775.0 1108.0,775.0 1108.0,776.0 1106.0,776.0 1106.0,780.0 1104.0,780.0 1104.0,775.0 1102.0,775.0 1102.0,774.0 1100.0,774.0 1100.0,775.0 1098.0,775.0 1098.0,773.0 1096.0,773.0 1096.0,772.0 1094.0,772.0 1094.0,773.0 1092.0,773.0 1092.0,778.0 1090.0,778.0 1090.0,778.0 1088.0,778.0 1088.0,772.0 1086.0,772.0 1086.0,771.0 1084.0,771.0 1084.0,771.0 1082.0,771.0 1082.0,775.0 1080.0,775.0 1080.0,770.0 1078.0,770.0 1078.0,775.0 1076.0,775.0 1076.0,775.0 1074.0,775.0 1074.0,773.0 1072.0,773.0 1072.0,774.0 1070.0,774.0 1070.0,768.0 1068.0,768.0 1068.0,769.0 1066.0,769.0 1066.0,767.0 1064.0,767.0 1064.0,769.0 1062.0,769.0 1062.0,769.0 1060.0,769.0 1060.0,768.0 1058.0,768.0 1058.0,768.0 1056.0,768.0 1056.0,769.0 1054.0,769.0 1054.0,767.0 1052.0,767.0 1052.0,766.0 1050.0,766.0 1050.0,768.0 1048.0,768.0 1048.0,768.0 1046.0,768.0 1046.0,764.0 1044.0,764.0 1044.0,766.0 1042.0,766.0 1042.0,766.0 1040.0,766.0 1040.0,766.0 1038.0,766.0 1038.0,767.0 1036.0,767.0 1036.0,763.0 1034.0,763.0 1034.0,763.0 1032.0,763.0 1032.0,761.0 1030.0,761.0 1030.0,765.0 1028.0,765.0 1028.0,764.0 1026.0,764.0 1026.0,761.0 1024.0,761.0 1024.0,761.0 1022.0,761.0 1022.0,760.0 1020.0,760.0 1020.0,762.0 1018.0,762.0 1018.0,763.0 1016.0,763.0 1016.0,762.0 1014.0,762.0 1014.0,761.0 1012.0,761.0 1012.0,762.0 1010.0,762.0 1010.0,764.0 1008.0,764.0 1008.0,763.0 1006.0,763.0 1006.0,760.0 1004.0,760.0 1004.0,758.0 1002.0,758.0 1002.0,761.0 1000.0,761.0 1000.0,762.0 998.0,762.0 998.0,764.0 996.0,764.0 996.0,765.0 994.0,765.0 994.0,763.0 992.0,763.0 992.0,761.0 990.0,761.0 990.0,761.0 988.0,761.0 988.0,762.0 986.0,762.0 986.0,758.0 984.0,758.0 984.0,758.0 982.0,758.0 982.0,757.0 980.0,757.0 980.0,756.0 978.0,756.0 978.0,758.0 976.0,758.0 976.0,760.0 974.0,760.0 974.0,759.0 972.0,759.0 972.0,768.0 970.0,768.0 970.0,760.0 968.0,760.0 968.0,760.0 966.0,760.0 966.0,758.0 964.0,758.0 964.0,758.0 962.0,758.0 962.0,758.0 960.0,758.0 960.0,757.0 958.0,757.0 958.0,762.0 956.0,762.0 956.0,761.0 954.0,761.0 954.0,756.0 952.0,756.0 952.0,756.0 950.0,756.0 950.0,754.0 948.0,754.0 948.0,755.0 946.0,755.0 946.0,753.0 944.0,753.0 944.0,752.0 942.0,752.0 942.0,755.0 940.0,755.0 940.0,755.0 938.0,755.0 938.0,756.0 936.0,756.0 936.0,754.0 934.0,754.0 934.0,757.0 932.0,757.0 932.0,756.0 930.0,756.0 930.0,762.0 928.0,762.0 928.0,761.0 926.0,761.0 926.0,755.0 924.0,755.0 924.0,755.0 922.0,755.0 922.0,758.0 920.0,758.0 920.0,757.0 918.0,757.0 918.0,757.0 916.0,757.0 916.0,754.0 914.0,754.0 914.0,754.0 912.0,754.0 912.0,758.0 910.0,758.0 910.0,758.0 908.0,758.0 908.0,756.0 906.0,756.0 906.0,754.0 904.0,754.0 904.0,757.0 902.0,757.0 902.0,757.0 900.0,757.0 900.0,755.0 898.0,755.0 898.0,742.0 896.0,742.0 896.0,730.0 894.0,730.0 894.0,726.0 892.0,726.0 892.0,715.0 890.0,715.0 890.0,704.0 888.0,704.0" fill="#868686"/>
<rect x="874.2" y="584.0" width="4.0" height="88.0" fill="#868686"/>
<rect x="873.2" y="628.0" width="6.0" height="44.0" fill="#868686"/>
<rect x="872.2" y="652.0" width="8.8" height="22.0" fill="#868686"/>
<rect x="801.2" y="757.0" width="3.0" height="18.0" fill="#868686"/>
<rect x="854.4" y="686.0" width="3.2" height="18.0" fill="#868686"/>
<polygon points="266.0,797.0 268.0,797.0 268.0,796.0 270.0,796.0 270.0,797.0 272.0,797.0 272.0,796.0 274.0,796.0 274.0,797.0 276.0,797.0 276.0,796.0 278.0,796.0 278.0,796.0 280.0,796.0 280.0,796.0 282.0,796.0 282.0,796.0 284.0,796.0 284.0,796.0 286.0,796.0 286.0,797.0 288.0,797.0 288.0,797.0 290.0,797.0 290.0,796.0 292.0,796.0 292.0,796.0 294.0,796.0 294.0,796.0 296.0,796.0 296.0,796.0 298.0,796.0 298.0,796.0 300.0,796.0 300.0,796.0 302.0,796.0 302.0,797.0 304.0,797.0 304.0,796.0 306.0,796.0 306.0,797.0 308.0,797.0 308.0,797.0 310.0,797.0 310.0,797.0 312.0,797.0 312.0,798.0 314.0,798.0 314.0,797.0 316.0,797.0 316.0,798.0 318.0,798.0 318.0,797.0 320.0,797.0 320.0,798.0 322.0,798.0 322.0,798.0 324.0,798.0 324.0,798.0 326.0,798.0 326.0,798.0 328.0,798.0 328.0,798.0 330.0,798.0 330.0,797.0 332.0,797.0 332.0,798.0 334.0,798.0 334.0,797.0 336.0,797.0 336.0,798.0 338.0,798.0 338.0,798.0 340.0,798.0 340.0,797.0 342.0,797.0 342.0,798.0 344.0,798.0 344.0,797.0 346.0,797.0 346.0,798.0 348.0,798.0 348.0,797.0 350.0,797.0 350.0,798.0 352.0,798.0 352.0,798.0 354.0,798.0 354.0,798.0 356.0,798.0 356.0,799.0 358.0,799.0 358.0,798.0 360.0,798.0 360.0,799.0 362.0,799.0 362.0,798.0 364.0,798.0 364.0,798.0 366.0,798.0 366.0,798.0 368.0,798.0 368.0,799.0 370.0,799.0 370.0,799.0 372.0,799.0 372.0,797.0 374.0,797.0 374.0,799.0 376.0,799.0 376.0,798.0 378.0,798.0 378.0,799.0 380.0,799.0 380.0,798.0 382.0,798.0 382.0,798.0 384.0,798.0 384.0,798.0 386.0,798.0 386.0,798.0 388.0,798.0 388.0,798.0 390.0,798.0 390.0,798.0 392.0,798.0 392.0,799.0 394.0,799.0 394.0,798.0 396.0,798.0 396.0,798.0 398.0,798.0 398.0,799.0 400.0,799.0 400.0,799.0 402.0,799.0 402.0,799.0 404.0,799.0 404.0,798.0 406.0,798.0 406.0,800.0 408.0,800.0 408.0,799.0 410.0,799.0 410.0,798.0 412.0,798.0 412.0,798.0 414.0,798.0 414.0,799.0 416.0,799.0 416.0,798.0 418.0,798.0 418.0,800.0 420.0,800.0 420.0,800.0 422.0,800.0 422.0,798.0 424.0,798.0 424.0,798.0 426.0,798.0 426.0,799.0 428.0,799.0 428.0,799.0 430.0,799.0 430.0,798.0 432.0,798.0 432.0,800.0 434.0,800.0 434.0,799.0 436.0,799.0 436.0,800.0 438.0,800.0 438.0,799.0 440.0,799.0 440.0,800.0 442.0,800.0 442.0,800.0 444.0,800.0 444.0,799.0 446.0,799.0 446.0,799.0 448.0,799.0 448.0,800.0 450.0,800.0 450.0,799.0 452.0,799.0 452.0,800.0 454.0,800.0 454.0,799.0 456.0,799.0 456.0,799.0 458.0,799.0 458.0,800.0 460.0,800.0 460.0,800.0 462.0,800.0 462.0,800.0 464.0,800.0 464.0,799.0 466.0,799.0 466.0,800.0 468.0,800.0 468.0,799.0 470.0,799.0 470.0,799.0 472.0,799.0 472.0,800.0 474.0,800.0 474.0,799.0 476.0,799.0 476.0,799.0 478.0,799.0 478.0,801.0 480.0,801.0 480.0,801.0 482.0,801.0 482.0,800.0 484.0,800.0 484.0,799.0 486.0,799.0 486.0,800.0 488.0,800.0 488.0,801.0 490.0,801.0 490.0,799.0 492.0,799.0 492.0,800.0 494.0,800.0 494.0,801.0 496.0,801.0 496.0,799.0 498.0,799.0 498.0,800.0 500.0,800.0 500.0,800.0 502.0,800.0 502.0,800.0 504.0,800.0 504.0,799.0 506.0,799.0 506.0,801.0 508.0,801.0 508.0,801.0 510.0,801.0 510.0,800.0 512.0,800.0 512.0,800.0 514.0,800.0 514.0,801.0 516.0,801.0 516.0,801.0 518.0,801.0 518.0,800.0 520.0,800.0 520.0,801.0 522.0,801.0 522.0,800.0 524.0,800.0 524.0,800.0 526.0,800.0 526.0,801.0 528.0,801.0 528.0,800.0 530.0,800.0 530.0,801.0 532.0,801.0 532.0,800.0 534.0,800.0 534.0,800.0 536.0,800.0 536.0,800.0 538.0,800.0 538.0,800.0 540.0,800.0 540.0,800.0 542.0,800.0 542.0,800.0 544.0,800.0 544.0,801.0 546.0,801.0 546.0,800.0 548.0,800.0 548.0,800.0 550.0,800.0 550.0,800.0 552.0,800.0 552.0,800.0 554.0,800.0 554.0,801.0 556.0,801.0 556.0,801.0 558.0,801.0 558.0,800.0 560.0,800.0 560.0,800.0 562.0,800.0 562.0,801.0 564.0,801.0 564.0,800.0 566.0,800.0 566.0,800.0 568.0,800.0 568.0,800.0 570.0,800.0 570.0,800.0 572.0,800.0 572.0,800.0 574.0,800.0 574.0,800.0 576.0,800.0 576.0,801.0 578.0,801.0 578.0,800.0 580.0,800.0 580.0,800.0 582.0,800.0 582.0,800.0 584.0,800.0 584.0,801.0 586.0,801.0 586.0,800.0 588.0,800.0 588.0,801.0 590.0,801.0 590.0,800.0 592.0,800.0 592.0,800.0 594.0,800.0 594.0,800.0 596.0,800.0 596.0,801.0 598.0,801.0 598.0,800.0 600.0,800.0 600.0,800.0 602.0,800.0 602.0,800.0 604.0,800.0 604.0,800.0 606.0,800.0 606.0,800.0 608.0,800.0 608.0,801.0 610.0,801.0 610.0,800.0 612.0,800.0 612.0,801.0 614.0,801.0 614.0,801.0 616.0,801.0 616.0,801.0 618.0,801.0 618.0,800.0 620.0,800.0 620.0,801.0 622.0,801.0 622.0,801.0 624.0,801.0 624.0,801.0 626.0,801.0 626.0,801.0 628.0,801.0 628.0,801.0 630.0,801.0 630.0,802.0 632.0,802.0 632.0,802.0 634.0,802.0 634.0,801.0 636.0,801.0 636.0,802.0 638.0,802.0 638.0,802.0 640.0,802.0 640.0,802.0 642.0,802.0 642.0,803.0 644.0,803.0 644.0,801.0 646.0,801.0 646.0,802.0 648.0,802.0 648.0,802.0 650.0,802.0 650.0,802.0 652.0,802.0 652.0,801.0 654.0,801.0 654.0,803.0 656.0,803.0 656.0,801.0 658.0,801.0 658.0,803.0 660.0,803.0 660.0,801.0 662.0,801.0 662.0,802.0 664.0,802.0 664.0,803.0 666.0,803.0 666.0,802.0 668.0,802.0 668.0,802.0 670.0,802.0 670.0,802.0 672.0,802.0 672.0,800.0 674.0,800.0 674.0,801.0 676.0,801.0 676.0,801.0 678.0,801.0 678.0,801.0 680.0,801.0 680.0,800.0 682.0,800.0 682.0,801.0 684.0,801.0 684.0,800.0 686.0,800.0 686.0,800.0 688.0,800.0 688.0,799.0 690.0,799.0 690.0,798.0 692.0,798.0 692.0,798.0 694.0,798.0 694.0,798.0 696.0,798.0 696.0,797.0 698.0,797.0 698.0,798.0 700.0,798.0 700.0,799.0 702.0,799.0 702.0,799.0 704.0,799.0 704.0,798.0 706.0,798.0 706.0,799.0 708.0,799.0 708.0,798.0 710.0,798.0 710.0,799.0 712.0,799.0 712.0,798.0 714.0,798.0 714.0,799.0 716.0,799.0 716.0,799.0 718.0,799.0 718.0,799.0 720.0,799.0 720.0,798.0 722.0,798.0 722.0,799.0 724.0,799.0 724.0,799.0 726.0,799.0 726.0,799.0 728.0,799.0 728.0,799.0 730.0,799.0 730.0,800.0 732.0,800.0 732.0,801.0 734.0,801.0 734.0,801.0 736.0,801.0 736.0,801.0 738.0,801.0 738.0,801.0 740.0,801.0 740.0,802.0 742.0,802.0 742.0,801.0 744.0,801.0 744.0,801.0 746.0,801.0 746.0,802.0 748.0,802.0 748.0,802.0 750.0,802.0 750.0,802.0 752.0,802.0 752.0,802.0 754.0,802.0 754.0,802.0 756.0,802.0 756.0,803.0 758.0,803.0 758.0,802.0 760.0,802.0 760.0,802.0 762.0,802.0 762.0,802.0 764.0,802.0 764.0,803.0 766.0,803.0 766.0,803.0 768.0,803.0 768.0,803.0 770.0,803.0 770.0,803.0 772.0,803.0 772.0,803.0 774.0,803.0 774.0,802.0 776.0,802.0 776.0,803.0 778.0,803.0 778.0,803.0 780.0,803.0 780.0,803.0 782.0,803.0 782.0,805.0 784.0,805.0 784.0,805.0 786.0,805.0 786.0,805.0 788.0,805.0 788.0,807.0 790.0,807.0 790.0,808.0 792.0,808.0 792.0,808.0 794.0,808.0 794.0,808.0 796.0,808.0 796.0,808.0 798.0,808.0 798.0,807.0 800.0,807.0 800.0,804.0 802.0,804.0 802.0,800.0 804.0,800.0 804.0,797.0 806.0,797.0 806.0,793.0 808.0,793.0 808.0,791.0 810.0,791.0 810.0,787.0 812.0,787.0 812.0,782.0 814.0,782.0 814.0,778.0 816.0,778.0 816.0,774.0 818.0,774.0 818.0,772.0 820.0,772.0 820.0,768.0 822.0,768.0 822.0,763.0 824.0,763.0 824.0,760.0 826.0,760.0 826.0,757.0 828.0,757.0 828.0,751.0 830.0,751.0 830.0,744.0 832.0,744.0 832.0,737.0 834.0,737.0 834.0,730.0 836.0,730.0 836.0,723.0 838.0,723.0 838.0,687.0 840.0,687.0 840.0,687.0 842.0,687.0 842.0,720.0 844.0,720.0 844.0,719.0 846.0,719.0 846.0,716.0 848.0,716.0 848.0,714.0 850.0,714.0 850.0,712.0 852.0,712.0 852.0,711.0 854.0,711.0 854.0,711.0 856.0,711.0 856.0,708.0 858.0,708.0 858.0,706.0 860.0,706.0 860.0,701.0 862.0,701.0 862.0,697.0 864.0,697.0 864.0,694.0 866.0,694.0 866.0,690.0 868.0,690.0 868.0,685.0 870.0,685.0 870.0,680.0 872.0,680.0 872.0,677.0 874.0,677.0 874.0,675.0 876.0,675.0 876.0,672.0 878.0,672.0 878.0,670.0 880.0,670.0 880.0,668.0 882.0,668.0 882.0,667.0 884.0,667.0 884.0,666.0 886.0,666.0 886.0,640.0 888.0,640.0 888.0,597.0 890.0,597.0 890.0,640.0 892.0,640.0 892.0,663.0 894.0,663.0 894.0,661.0 896.0,661.0 896.0,661.0 898.0,661.0 898.0,661.0 900.0,661.0 900.0,661.0 902.0,661.0 902.0,661.0 904.0,661.0 904.0,663.0 906.0,663.0 906.0,662.0 907.0,662.0 907.0,670.0 906.0,670.0 906.0,670.0 904.0,670.0 904.0,668.0 902.0,668.0 902.0,669.0 900.0,669.0 900.0,669.0 898.0,669.0 898.0,668.0 896.0,668.0 896.0,668.0 894.0,668.0 894.0,670.0 892.0,670.0 892.0,670.0 890.0,670.0 890.0,671.0 888.0,671.0 888.0,672.0 886.0,672.0 886.0,676.0 884.0,676.0 884.0,678.0 882.0,678.0 882.0,679.0 880.0,679.0 880.0,684.0 878.0,684.0 878.0,688.0 876.0,688.0 876.0,692.0 874.0,692.0 874.0,698.0 872.0,698.0 872.0,704.0 870.0,704.0 870.0,710.0 868.0,710.0 868.0,714.0 866.0,714.0 866.0,719.0 864.0,719.0 864.0,725.0 862.0,725.0 862.0,727.0 860.0,727.0 860.0,727.0 858.0,727.0 858.0,729.0 856.0,729.0 856.0,729.0 854.0,729.0 854.0,732.0 852.0,732.0 852.0,732.0 850.0,732.0 850.0,736.0 848.0,736.0 848.0,739.0 846.0,739.0 846.0,740.0 844.0,740.0 844.0,741.0 842.0,741.0 842.0,748.0 840.0,748.0 840.0,755.0 838.0,755.0 838.0,763.0 836.0,763.0 836.0,769.0 834.0,769.0 834.0,772.0 832.0,772.0 832.0,775.0 830.0,775.0 830.0,777.0 828.0,777.0 828.0,778.0 826.0,778.0 826.0,783.0 824.0,783.0 824.0,785.0 822.0,785.0 822.0,790.0 820.0,790.0 820.0,792.0 818.0,792.0 818.0,796.0 816.0,796.0 816.0,800.0 814.0,800.0 814.0,804.0 812.0,804.0 812.0,806.0 810.0,806.0 810.0,807.0 808.0,807.0 808.0,810.0 806.0,810.0 806.0,813.0 804.0,813.0 804.0,812.0 802.0,812.0 802.0,814.0 800.0,814.0 800.0,815.0 798.0,815.0 798.0,814.0 796.0,814.0 796.0,814.0 794.0,814.0 794.0,815.0 792.0,815.0 792.0,813.0 790.0,813.0 790.0,813.0 788.0,813.0 788.0,811.0 786.0,811.0 786.0,811.0 784.0,811.0 784.0,811.0 782.0,811.0 782.0,810.0 780.0,810.0 780.0,809.0 778.0,809.0 778.0,809.0 776.0,809.0 776.0,807.0 774.0,807.0 774.0,807.0 772.0,807.0 772.0,807.0 770.0,807.0 770.0,807.0 768.0,807.0 768.0,807.0 766.0,807.0 766.0,806.0 764.0,806.0 764.0,807.0 762.0,807.0 762.0,806.0 760.0,806.0 760.0,806.0 758.0,806.0 758.0,807.0 756.0,807.0 756.0,807.0 754.0,807.0 754.0,806.0 752.0,806.0 752.0,806.0 750.0,806.0 750.0,807.0 748.0,807.0 748.0,805.0 746.0,805.0 746.0,806.0 744.0,806.0 744.0,806.0 742.0,806.0 742.0,805.0 740.0,805.0 740.0,805.0 738.0,805.0 738.0,806.0 736.0,806.0 736.0,806.0 734.0,806.0 734.0,806.0 732.0,806.0 732.0,806.0 730.0,806.0 730.0,806.0 728.0,806.0 728.0,807.0 726.0,807.0 726.0,806.0 724.0,806.0 724.0,806.0 722.0,806.0 722.0,806.0 720.0,806.0 720.0,806.0 718.0,806.0 718.0,805.0 716.0,805.0 716.0,805.0 714.0,805.0 714.0,805.0 712.0,805.0 712.0,805.0 710.0,805.0 710.0,806.0 708.0,806.0 708.0,806.0 706.0,806.0 706.0,806.0 704.0,806.0 704.0,806.0 702.0,806.0 702.0,806.0 700.0,806.0 700.0,806.0 698.0,806.0 698.0,805.0 696.0,805.0 696.0,805.0 694.0,805.0 694.0,804.0 692.0,804.0 692.0,804.0 690.0,804.0 690.0,803.0 688.0,803.0 688.0,804.0 686.0,804.0 686.0,804.0 684.0,804.0 684.0,804.0 682.0,804.0 682.0,804.0 680.0,804.0 680.0,804.0 678.0,804.0 678.0,804.0 676.0,804.0 676.0,804.0 674.0,804.0 674.0,805.0 672.0,805.0 672.0,804.0 670.0,804.0 670.0,805.0 668.0,805.0 668.0,805.0 666.0,805.0 666.0,805.0 664.0,805.0 664.0,805.0 662.0,805.0 662.0,805.0 660.0,805.0 660.0,806.0 658.0,806.0 658.0,805.0 656.0,805.0 656.0,806.0 654.0,806.0 654.0,806.0 652.0,806.0 652.0,805.0 650.0,805.0 650.0,806.0 648.0,806.0 648.0,806.0 646.0,806.0 646.0,805.0 644.0,805.0 644.0,805.0 642.0,805.0 642.0,805.0 640.0,805.0 640.0,806.0 638.0,806.0 638.0,804.0 636.0,804.0 636.0,806.0 634.0,806.0 634.0,805.0 632.0,805.0 632.0,806.0 630.0,806.0 630.0,804.0 628.0,804.0 628.0,804.0 626.0,804.0 626.0,805.0 624.0,805.0 624.0,805.0 622.0,805.0 622.0,804.0 620.0,804.0 620.0,804.0 618.0,804.0 618.0,805.0 616.0,805.0 616.0,805.0 614.0,805.0 614.0,804.0 612.0,804.0 612.0,805.0 610.0,805.0 610.0,805.0 608.0,805.0 608.0,805.0 606.0,805.0 606.0,805.0 604.0,805.0 604.0,803.0 602.0,803.0 602.0,805.0 600.0,805.0 600.0,803.0 598.0,803.0 598.0,804.0 596.0,804.0 596.0,804.0 594.0,804.0 594.0,804.0 592.0,804.0 592.0,805.0 590.0,805.0 590.0,803.0 588.0,803.0 588.0,805.0 586.0,805.0 586.0,805.0 584.0,805.0 584.0,805.0 582.0,805.0 582.0,805.0 580.0,805.0 580.0,804.0 578.0,804.0 578.0,805.0 576.0,805.0 576.0,803.0 574.0,803.0 574.0,804.0 572.0,804.0 572.0,804.0 570.0,804.0 570.0,804.0 568.0,804.0 568.0,804.0 566.0,804.0 566.0,804.0 564.0,804.0 564.0,803.0 562.0,803.0 562.0,804.0 560.0,804.0 560.0,804.0 558.0,804.0 558.0,804.0 556.0,804.0 556.0,804.0 554.0,804.0 554.0,804.0 552.0,804.0 552.0,805.0 550.0,805.0 550.0,804.0 548.0,804.0 548.0,803.0 546.0,803.0 546.0,805.0 544.0,805.0 544.0,804.0 542.0,804.0 542.0,804.0 540.0,804.0 540.0,803.0 538.0,803.0 538.0,805.0 536.0,805.0 536.0,803.0 534.0,803.0 534.0,803.0 532.0,803.0 532.0,803.0 530.0,803.0 530.0,804.0 528.0,804.0 528.0,804.0 526.0,804.0 526.0,804.0 524.0,804.0 524.0,803.0 522.0,803.0 522.0,804.0 520.0,804.0 520.0,803.0 518.0,803.0 518.0,803.0 516.0,803.0 516.0,803.0 514.0,803.0 514.0,803.0 512.0,803.0 512.0,804.0 510.0,804.0 510.0,805.0 508.0,805.0 508.0,804.0 506.0,804.0 506.0,803.0 504.0,803.0 504.0,804.0 502.0,804.0 502.0,803.0 500.0,803.0 500.0,803.0 498.0,803.0 498.0,804.0 496.0,804.0 496.0,804.0 494.0,804.0 494.0,803.0 492.0,803.0 492.0,803.0 490.0,803.0 490.0,803.0 488.0,803.0 488.0,804.0 486.0,804.0 486.0,804.0 484.0,804.0 484.0,804.0 482.0,804.0 482.0,803.0 480.0,803.0 480.0,804.0 478.0,804.0 478.0,804.0 476.0,804.0 476.0,803.0 474.0,803.0 474.0,803.0 472.0,803.0 472.0,803.0 470.0,803.0 470.0,803.0 468.0,803.0 468.0,804.0 466.0,804.0 466.0,802.0 464.0,802.0 464.0,803.0 462.0,803.0 462.0,803.0 460.0,803.0 460.0,802.0 458.0,802.0 458.0,803.0 456.0,803.0 456.0,803.0 454.0,803.0 454.0,803.0 452.0,803.0 452.0,803.0 450.0,803.0 450.0,803.0 448.0,803.0 448.0,803.0 446.0,803.0 446.0,803.0 444.0,803.0 444.0,803.0 442.0,803.0 442.0,802.0 440.0,802.0 440.0,802.0 438.0,802.0 438.0,803.0 436.0,803.0 436.0,803.0 434.0,803.0 434.0,803.0 432.0,803.0 432.0,802.0 430.0,802.0 430.0,802.0 428.0,802.0 428.0,802.0 426.0,802.0 426.0,803.0 424.0,803.0 424.0,802.0 422.0,802.0 422.0,803.0 420.0,803.0 420.0,803.0 418.0,803.0 418.0,803.0 416.0,803.0 416.0,802.0 414.0,802.0 414.0,803.0 412.0,803.0 412.0,802.0 410.0,802.0 410.0,802.0 408.0,802.0 408.0,803.0 406.0,803.0 406.0,802.0 404.0,802.0 404.0,802.0 402.0,802.0 402.0,803.0 400.0,803.0 400.0,802.0 398.0,802.0 398.0,802.0 396.0,802.0 396.0,803.0 394.0,803.0 394.0,802.0 392.0,802.0 392.0,802.0 390.0,802.0 390.0,801.0 388.0,801.0 388.0,802.0 386.0,802.0 386.0,801.0 384.0,801.0 384.0,803.0 382.0,803.0 382.0,801.0 380.0,801.0 380.0,802.0 378.0,802.0 378.0,801.0 376.0,801.0 376.0,802.0 374.0,802.0 374.0,802.0 372.0,802.0 372.0,802.0 370.0,802.0 370.0,801.0 368.0,801.0 368.0,802.0 366.0,802.0 366.0,802.0 364.0,802.0 364.0,802.0 362.0,802.0 362.0,802.0 360.0,802.0 360.0,801.0 358.0,801.0 358.0,802.0 356.0,802.0 356.0,802.0 354.0,802.0 354.0,801.0 352.0,801.0 352.0,801.0 350.0,801.0 350.0,802.0 348.0,802.0 348.0,802.0 346.0,802.0 346.0,801.0 344.0,801.0 344.0,801.0 342.0,801.0 342.0,801.0 340.0,801.0 340.0,800.0 338.0,800.0 338.0,800.0 336.0,800.0 336.0,801.0 334.0,801.0 334.0,801.0 332.0,801.0 332.0,802.0 330.0,802.0 330.0,802.0 328.0,802.0 328.0,801.0 326.0,801.0 326.0,801.0 324.0,801.0 324.0,801.0 322.0,801.0 322.0,800.0 320.0,800.0 320.0,800.0 318.0,800.0 318.0,801.0 316.0,801.0 316.0,801.0 314.0,801.0 314.0,801.0 312.0,801.0 312.0,801.0 310.0,801.0 310.0,801.0 308.0,801.0 308.0,801.0 306.0,801.0 306.0,800.0 304.0,800.0 304.0,800.0 302.0,800.0 302.0,801.0 300.0,801.0 300.0,800.0 298.0,800.0 298.0,800.0 296.0,800.0 296.0,800.0 294.0,800.0 294.0,800.0 292.0,800.0 292.0,800.0 290.0,800.0 290.0,800.0 288.0,800.0 288.0,801.0 286.0,801.0 286.0,800.0 284.0,800.0 284.0,801.0 282.0,801.0 282.0,801.0 280.0,801.0 280.0,799.0 278.0,799.0 278.0,800.0 276.0,800.0 276.0,801.0 274.0,801.0 274.0,801.0 272.0,801.0 272.0,800.0 270.0,800.0 270.0,799.0 268.0,799.0 268.0,800.0 266.0,800.0" fill="#676767"/>
<polygon points="905.5,663.0 907.5,663.0 907.5,663.0 909.5,663.0 909.5,664.0 911.5,664.0 911.5,669.0 913.5,669.0 913.5,669.0 915.5,669.0 915.5,671.0 917.5,671.0 917.5,670.0 919.5,670.0 919.5,672.0 921.5,672.0 921.5,677.0 923.5,677.0 923.5,681.0 925.5,681.0 925.5,673.0 927.5,673.0 927.5,674.0 929.5,674.0 929.5,682.0 931.5,682.0 931.5,686.0 933.5,686.0 933.5,686.0 935.5,686.0 935.5,689.0 937.5,689.0 937.5,690.0 939.5,690.0 939.5,699.0 941.5,699.0 941.5,693.0 943.5,693.0 943.5,692.0 945.5,692.0 945.5,699.0 947.5,699.0 947.5,695.0 949.5,695.0 949.5,696.0 951.5,696.0 951.5,696.0 953.5,696.0 953.5,696.0 955.5,696.0 955.5,701.0 957.5,701.0 957.5,671.0 959.5,671.0 959.5,671.0 961.5,671.0 961.5,693.0 963.5,693.0 963.5,692.0 965.5,692.0 965.5,694.0 967.5,694.0 967.5,688.0 969.5,688.0 969.5,705.0 971.5,705.0 971.5,706.0 973.5,706.0 973.5,706.0 975.5,706.0 975.5,701.0 977.5,701.0 977.5,700.0 979.5,700.0 979.5,701.0 981.5,701.0 981.5,702.0 983.5,702.0 983.5,708.0 985.5,708.0 985.5,708.0 987.5,708.0 987.5,709.0 989.5,709.0 989.5,709.0 991.5,709.0 991.5,711.0 993.5,711.0 993.5,710.0 995.5,710.0 995.5,710.0 997.5,710.0 997.5,710.0 999.5,710.0 999.5,710.0 1001.5,710.0 1001.5,711.0 1003.5,711.0 1003.5,712.0 1005.5,712.0 1005.5,714.0 1007.5,714.0 1007.5,714.0 1009.5,714.0 1009.5,715.0 1011.5,715.0 1011.5,711.0 1013.5,711.0 1013.5,715.0 1015.5,715.0 1015.5,717.0 1017.5,717.0 1017.5,709.0 1019.5,709.0 1019.5,719.0 1021.5,719.0 1021.5,720.0 1023.5,720.0 1023.5,710.0 1025.5,710.0 1025.5,709.0 1027.5,709.0 1027.5,707.0 1029.5,707.0 1029.5,721.0 1031.5,721.0 1031.5,721.0 1033.5,721.0 1033.5,722.0 1035.5,722.0 1035.5,716.0 1037.5,716.0 1037.5,717.0 1039.5,717.0 1039.5,719.0 1041.5,719.0 1041.5,721.0 1043.5,721.0 1043.5,721.0 1045.5,721.0 1045.5,726.0 1047.5,726.0 1047.5,728.0 1049.5,728.0 1049.5,722.0 1051.5,722.0 1051.5,722.0 1053.5,722.0 1053.5,723.0 1055.5,723.0 1055.5,725.0 1057.5,725.0 1057.5,726.0 1059.5,726.0 1059.5,726.0 1061.5,726.0 1061.5,732.0 1063.5,732.0 1063.5,732.0 1065.5,732.0 1065.5,733.0 1067.5,733.0 1067.5,727.0 1069.5,727.0 1069.5,732.0 1071.5,732.0 1071.5,729.0 1073.5,729.0 1073.5,732.0 1075.5,732.0 1075.5,732.0 1077.5,732.0 1077.5,735.0 1079.5,735.0 1079.5,735.0 1081.5,735.0 1081.5,735.0 1083.5,735.0 1083.5,732.0 1085.5,732.0 1085.5,736.0 1087.5,736.0 1087.5,736.0 1089.5,736.0 1089.5,730.0 1091.5,730.0 1091.5,704.0 1093.5,704.0 1093.5,704.0 1095.5,704.0 1095.5,740.0 1097.5,740.0 1097.5,740.0 1099.5,740.0 1099.5,737.0 1101.5,737.0 1101.5,736.0 1103.5,736.0 1103.5,739.0 1105.5,739.0 1105.5,739.0 1107.5,739.0 1107.5,740.0 1109.5,740.0 1109.5,742.0 1111.5,742.0 1111.5,743.0 1113.5,743.0 1113.5,742.0 1115.5,742.0 1115.5,741.0 1117.5,741.0 1117.5,737.0 1119.5,737.0 1119.5,738.0 1121.5,738.0 1121.5,738.0 1123.5,738.0 1123.5,745.0 1125.5,745.0 1125.5,742.0 1127.5,742.0 1127.5,741.0 1129.5,741.0 1129.5,737.0 1131.5,737.0 1131.5,738.0 1133.5,738.0 1133.5,743.0 1135.5,743.0 1135.5,721.0 1137.5,721.0 1137.5,721.0 1139.5,721.0 1139.5,744.0 1141.5,744.0 1141.5,746.0 1143.5,746.0 1143.5,745.0 1145.5,745.0 1145.5,746.0 1147.5,746.0 1147.5,746.0 1149.5,746.0 1149.5,748.0 1151.5,748.0 1151.5,747.0 1153.5,747.0 1153.5,745.0 1155.5,745.0 1155.5,745.0 1157.5,745.0 1157.5,745.0 1159.5,745.0 1159.5,745.0 1161.5,745.0 1161.5,745.0 1163.5,745.0 1163.5,742.0 1165.5,742.0 1165.5,744.0 1167.5,744.0 1167.5,749.0 1169.5,749.0 1169.5,750.0 1171.5,750.0 1171.5,739.0 1173.5,739.0 1173.5,740.0 1175.5,740.0 1175.5,750.0 1177.5,750.0 1177.5,751.0 1179.5,751.0 1179.5,750.0 1181.5,750.0 1181.5,751.0 1183.5,751.0 1183.5,744.0 1185.5,744.0 1185.5,739.0 1187.5,739.0 1187.5,739.0 1189.5,739.0 1189.5,753.0 1191.5,753.0 1191.5,752.0 1193.5,752.0 1193.5,754.0 1195.5,754.0 1195.5,755.0 1197.5,755.0 1197.5,756.0 1199.5,756.0 1199.5,751.0 1201.5,751.0 1201.5,751.0 1203.5,751.0 1203.5,750.0 1205.5,750.0 1205.5,755.0 1207.5,755.0 1207.5,756.0 1209.5,756.0 1209.5,744.0 1211.5,744.0 1211.5,744.0 1213.5,744.0 1213.5,759.0 1215.5,759.0 1215.5,753.0 1217.5,753.0 1217.5,755.0 1219.5,755.0 1219.5,748.0 1221.5,748.0 1221.5,747.0 1223.5,747.0 1223.5,751.0 1225.5,751.0 1225.5,753.0 1227.5,753.0 1227.5,759.0 1229.5,759.0 1229.5,760.0 1231.5,760.0 1231.5,749.0 1233.5,749.0 1233.5,750.0 1235.5,750.0 1235.5,749.0 1237.5,749.0 1237.5,752.0 1239.5,752.0 1239.5,756.0 1241.5,756.0 1241.5,757.0 1243.5,757.0 1243.5,758.0 1245.5,758.0 1245.5,759.0 1247.5,759.0 1247.5,758.0 1249.5,758.0 1249.5,759.0 1251.5,759.0 1251.5,759.0 1253.5,759.0 1253.5,759.0 1255.5,759.0 1255.5,760.0 1257.5,760.0 1257.5,759.0 1259.5,759.0 1259.5,761.0 1261.5,761.0 1261.5,760.0 1263.5,760.0 1263.5,759.0 1265.5,759.0 1265.5,760.0 1267.5,760.0 1267.5,762.0 1269.5,762.0 1269.5,762.0 1271.5,762.0 1271.5,757.0 1273.5,757.0 1273.5,756.0 1275.5,756.0 1275.5,764.0 1277.5,764.0 1277.5,765.0 1279.5,765.0 1279.5,756.0 1281.5,756.0 1281.5,756.0 1283.5,756.0 1283.5,758.0 1285.5,758.0 1285.5,762.0 1287.5,762.0 1287.5,761.0 1289.5,761.0 1289.5,765.0 1291.5,765.0 1291.5,766.0 1293.5,766.0 1293.5,766.0 1295.5,766.0 1295.5,763.0 1297.5,763.0 1297.5,765.0 1299.5,765.0 1299.5,768.0 1301.5,768.0 1301.5,768.0 1303.5,768.0 1303.5,768.0 1305.5,768.0 1305.5,763.0 1307.5,763.0 1307.5,763.0 1309.5,763.0 1309.5,769.0 1311.5,769.0 1311.5,768.0 1313.5,768.0 1313.5,766.0 1315.5,766.0 1315.5,766.0 1317.5,766.0 1317.5,766.0 1319.5,766.0 1319.5,766.0 1321.5,766.0 1321.5,766.0 1323.5,766.0 1323.5,771.0 1325.5,771.0 1325.5,769.0 1327.5,769.0 1327.5,760.0 1329.5,760.0 1329.5,761.0 1331.5,761.0 1331.5,763.0 1333.5,763.0 1333.5,763.0 1335.5,763.0 1335.5,772.0 1337.5,772.0 1337.5,770.0 1339.5,770.0 1339.5,772.0 1341.5,772.0 1341.5,767.0 1343.5,767.0 1343.5,769.0 1345.5,769.0 1345.5,771.0 1347.5,771.0 1347.5,770.0 1349.5,770.0 1349.5,766.0 1351.5,766.0 1351.5,766.0 1353.5,766.0 1353.5,766.0 1355.5,766.0 1355.5,769.0 1357.5,769.0 1357.5,766.0 1359.5,766.0 1359.5,766.0 1361.5,766.0 1361.5,768.0 1363.5,768.0 1363.5,769.0 1365.5,769.0 1365.5,768.0 1367.5,768.0 1367.5,771.0 1369.5,771.0 1369.5,771.0 1371.5,771.0 1371.5,772.0 1373.5,772.0 1373.5,771.0 1374.0,771.0 1374.0,794.0 1373.5,794.0 1373.5,797.0 1371.5,797.0 1371.5,793.0 1369.5,793.0 1369.5,793.0 1367.5,793.0 1367.5,799.0 1365.5,799.0 1365.5,794.0 1363.5,794.0 1363.5,793.0 1361.5,793.0 1361.5,794.0 1359.5,794.0 1359.5,799.0 1357.5,799.0 1357.5,799.0 1355.5,799.0 1355.5,796.0 1353.5,796.0 1353.5,796.0 1351.5,796.0 1351.5,801.0 1349.5,801.0 1349.5,801.0 1347.5,801.0 1347.5,793.0 1345.5,793.0 1345.5,793.0 1343.5,793.0 1343.5,793.0 1341.5,793.0 1341.5,798.0 1339.5,798.0 1339.5,799.0 1337.5,799.0 1337.5,799.0 1335.5,799.0 1335.5,799.0 1333.5,799.0 1333.5,797.0 1331.5,797.0 1331.5,792.0 1329.5,792.0 1329.5,793.0 1327.5,793.0 1327.5,793.0 1325.5,793.0 1325.5,793.0 1323.5,793.0 1323.5,792.0 1321.5,792.0 1321.5,793.0 1319.5,793.0 1319.5,792.0 1317.5,792.0 1317.5,792.0 1315.5,792.0 1315.5,795.0 1313.5,795.0 1313.5,795.0 1311.5,795.0 1311.5,792.0 1309.5,792.0 1309.5,792.0 1307.5,792.0 1307.5,794.0 1305.5,794.0 1305.5,795.0 1303.5,795.0 1303.5,795.0 1301.5,795.0 1301.5,794.0 1299.5,794.0 1299.5,793.0 1297.5,793.0 1297.5,793.0 1295.5,793.0 1295.5,793.0 1293.5,793.0 1293.5,797.0 1291.5,797.0 1291.5,797.0 1289.5,797.0 1289.5,796.0 1287.5,796.0 1287.5,799.0 1285.5,799.0 1285.5,800.0 1283.5,800.0 1283.5,799.0 1281.5,799.0 1281.5,793.0 1279.5,793.0 1279.5,798.0 1277.5,798.0 1277.5,798.0 1275.5,798.0 1275.5,796.0 1273.5,796.0 1273.5,799.0 1271.5,799.0 1271.5,798.0 1269.5,798.0 1269.5,797.0 1267.5,797.0 1267.5,791.0 1265.5,791.0 1265.5,791.0 1263.5,791.0 1263.5,794.0 1261.5,794.0 1261.5,791.0 1259.5,791.0 1259.5,791.0 1257.5,791.0 1257.5,791.0 1255.5,791.0 1255.5,795.0 1253.5,795.0 1253.5,794.0 1251.5,794.0 1251.5,791.0 1249.5,791.0 1249.5,790.0 1247.5,790.0 1247.5,790.0 1245.5,790.0 1245.5,793.0 1243.5,793.0 1243.5,793.0 1241.5,793.0 1241.5,790.0 1239.5,790.0 1239.5,790.0 1237.5,790.0 1237.5,791.0 1235.5,791.0 1235.5,789.0 1233.5,789.0 1233.5,794.0 1231.5,794.0 1231.5,795.0 1229.5,795.0 1229.5,788.0 1227.5,788.0 1227.5,788.0 1225.5,788.0 1225.5,793.0 1223.5,793.0 1223.5,791.0 1221.5,791.0 1221.5,789.0 1219.5,789.0 1219.5,791.0 1217.5,791.0 1217.5,790.0 1215.5,790.0 1215.5,789.0 1213.5,789.0 1213.5,789.0 1211.5,789.0 1211.5,789.0 1209.5,789.0 1209.5,789.0 1207.5,789.0 1207.5,796.0 1205.5,796.0 1205.5,795.0 1203.5,795.0 1203.5,790.0 1201.5,790.0 1201.5,791.0 1199.5,791.0 1199.5,791.0 1197.5,791.0 1197.5,792.0 1195.5,792.0 1195.5,790.0 1193.5,790.0 1193.5,787.0 1191.5,787.0 1191.5,787.0 1189.5,787.0 1189.5,786.0 1187.5,786.0 1187.5,787.0 1185.5,787.0 1185.5,785.0 1183.5,785.0 1183.5,786.0 1181.5,786.0 1181.5,784.0 1179.5,784.0 1179.5,786.0 1177.5,786.0 1177.5,785.0 1175.5,785.0 1175.5,787.0 1173.5,787.0 1173.5,787.0 1171.5,787.0 1171.5,784.0 1169.5,784.0 1169.5,787.0 1167.5,787.0 1167.5,783.0 1165.5,783.0 1165.5,783.0 1163.5,783.0 1163.5,783.0 1161.5,783.0 1161.5,787.0 1159.5,787.0 1159.5,787.0 1157.5,787.0 1157.5,781.0 1155.5,781.0 1155.5,782.0 1153.5,782.0 1153.5,781.0 1151.5,781.0 1151.5,784.0 1149.5,784.0 1149.5,781.0 1147.5,781.0 1147.5,781.0 1145.5,781.0 1145.5,783.0 1143.5,783.0 1143.5,783.0 1141.5,783.0 1141.5,784.0 1139.5,784.0 1139.5,783.0 1137.5,783.0 1137.5,782.0 1135.5,782.0 1135.5,780.0 1133.5,780.0 1133.5,780.0 1131.5,780.0 1131.5,781.0 1129.5,781.0 1129.5,784.0 1127.5,784.0 1127.5,789.0 1125.5,789.0 1125.5,789.0 1123.5,789.0 1123.5,779.0 1121.5,779.0 1121.5,779.0 1119.5,779.0 1119.5,777.0 1117.5,777.0 1117.5,777.0 1115.5,777.0 1115.5,783.0 1113.5,783.0 1113.5,777.0 1111.5,777.0 1111.5,779.0 1109.5,779.0 1109.5,785.0 1107.5,785.0 1107.5,778.0 1105.5,778.0 1105.5,778.0 1103.5,778.0 1103.5,778.0 1101.5,778.0 1101.5,779.0 1099.5,779.0 1099.5,779.0 1097.5,779.0 1097.5,778.0 1095.5,778.0 1095.5,777.0 1093.5,777.0 1093.5,789.0 1091.5,789.0 1091.5,779.0 1089.5,779.0 1089.5,782.0 1087.5,782.0 1087.5,775.0 1085.5,775.0 1085.5,774.0 1083.5,774.0 1083.5,775.0 1081.5,775.0 1081.5,774.0 1079.5,774.0 1079.5,772.0 1077.5,772.0 1077.5,772.0 1075.5,772.0 1075.5,776.0 1073.5,776.0 1073.5,777.0 1071.5,777.0 1071.5,772.0 1069.5,772.0 1069.5,770.0 1067.5,770.0 1067.5,772.0 1065.5,772.0 1065.5,772.0 1063.5,772.0 1063.5,776.0 1061.5,776.0 1061.5,775.0 1059.5,775.0 1059.5,776.0 1057.5,776.0 1057.5,773.0 1055.5,773.0 1055.5,773.0 1053.5,773.0 1053.5,768.0 1051.5,768.0 1051.5,771.0 1049.5,771.0 1049.5,771.0 1047.5,771.0 1047.5,770.0 1045.5,770.0 1045.5,770.0 1043.5,770.0 1043.5,768.0 1041.5,768.0 1041.5,774.0 1039.5,774.0 1039.5,768.0 1037.5,768.0 1037.5,768.0 1035.5,768.0 1035.5,767.0 1033.5,767.0 1033.5,768.0 1031.5,768.0 1031.5,771.0 1029.5,771.0 1029.5,769.0 1027.5,769.0 1027.5,769.0 1025.5,769.0 1025.5,767.0 1023.5,767.0 1023.5,768.0 1021.5,768.0 1021.5,770.0 1019.5,770.0 1019.5,770.0 1017.5,770.0 1017.5,769.0 1015.5,769.0 1015.5,765.0 1013.5,765.0 1013.5,765.0 1011.5,765.0 1011.5,763.0 1009.5,763.0 1009.5,762.0 1007.5,762.0 1007.5,769.0 1005.5,769.0 1005.5,770.0 1003.5,770.0 1003.5,768.0 1001.5,768.0 1001.5,766.0 999.5,766.0 999.5,768.0 997.5,768.0 997.5,768.0 995.5,768.0 995.5,768.0 993.5,768.0 993.5,763.0 991.5,763.0 991.5,763.0 989.5,763.0 989.5,765.0 987.5,765.0 987.5,759.0 985.5,759.0 985.5,760.0 983.5,760.0 983.5,761.0 981.5,761.0 981.5,760.0 979.5,760.0 979.5,760.0 977.5,760.0 977.5,758.0 975.5,758.0 975.5,760.0 973.5,760.0 973.5,760.0 971.5,760.0 971.5,759.0 969.5,759.0 969.5,759.0 967.5,759.0 967.5,759.0 965.5,759.0 965.5,757.0 963.5,757.0 963.5,759.0 961.5,759.0 961.5,758.0 959.5,758.0 959.5,763.0 957.5,763.0 957.5,763.0 955.5,763.0 955.5,756.0 953.5,756.0 953.5,757.0 951.5,757.0 951.5,757.0 949.5,757.0 949.5,758.0 947.5,758.0 947.5,757.0 945.5,757.0 945.5,754.0 943.5,754.0 943.5,753.0 941.5,753.0 941.5,758.0 939.5,758.0 939.5,757.0 937.5,757.0 937.5,761.0 935.5,761.0 935.5,754.0 933.5,754.0 933.5,753.0 931.5,753.0 931.5,754.0 929.5,754.0 929.5,763.5 927.5,763.5 927.5,763.5 925.5,763.5 925.5,755.0 923.5,755.0 923.5,754.0 921.5,754.0 921.5,752.0 919.5,752.0 919.5,752.0 917.5,752.0 917.5,753.0 915.5,753.0 915.5,757.0 913.5,757.0 913.5,756.0 911.5,756.0 911.5,754.0 909.5,754.0 909.5,754.0 907.5,754.0 907.5,748.0 905.5,748.0" fill="#676767"/>
<rect x="886.8" y="597.0" width="4.6" height="71.0" fill="#676767"/>
<rect x="886.0" y="640.0" width="6.6" height="28.0" fill="#676767"/>
<rect x="837.8" y="687.0" width="3.8" height="48.0" fill="#676767"/>
<rect x="957.2" y="671.0" width="4.0" height="29.0" fill="#676767"/>
<rect x="967.8" y="689.0" width="2.8" height="13.0" fill="#868686"/>
<rect x="1092.4" y="704.0" width="3.8" height="32.0" fill="#676767"/>
<rect x="1135.0" y="721.0" width="3.8" height="23.0" fill="#676767"/>
<polygon points="266.0,797.0 268.0,797.0 268.0,796.0 270.0,796.0 270.0,797.0 272.0,797.0 272.0,796.0 274.0,796.0 274.0,797.0 276.0,797.0 276.0,797.0 278.0,797.0 278.0,798.0 280.0,798.0 280.0,796.0 282.0,796.0 282.0,798.0 284.0,798.0 284.0,797.0 286.0,797.0 286.0,797.0 288.0,797.0 288.0,796.0 290.0,796.0 290.0,798.0 292.0,798.0 292.0,796.0 294.0,796.0 294.0,797.0 296.0,797.0 296.0,798.0 298.0,798.0 298.0,797.0 300.0,797.0 300.0,797.0 302.0,797.0 302.0,797.0 304.0,797.0 304.0,796.0 306.0,796.0 306.0,798.0 308.0,798.0 308.0,797.0 310.0,797.0 310.0,797.0 312.0,797.0 312.0,797.0 314.0,797.0 314.0,796.0 316.0,796.0 316.0,797.0 318.0,797.0 318.0,797.0 320.0,797.0 320.0,798.0 322.0,798.0 322.0,798.0 324.0,798.0 324.0,798.0 326.0,798.0 326.0,798.0 328.0,798.0 328.0,797.0 330.0,797.0 330.0,797.0 332.0,797.0 332.0,797.0 334.0,797.0 334.0,799.0 336.0,799.0 336.0,798.0 338.0,798.0 338.0,799.0 340.0,799.0 340.0,799.0 342.0,799.0 342.0,797.0 344.0,797.0 344.0,798.0 346.0,798.0 346.0,798.0 348.0,798.0 348.0,797.0 350.0,797.0 350.0,799.0 352.0,799.0 352.0,799.0 354.0,799.0 354.0,799.0 356.0,799.0 356.0,798.0 358.0,798.0 358.0,798.0 360.0,798.0 360.0,798.0 362.0,798.0 362.0,800.0 364.0,800.0 364.0,798.0 366.0,798.0 366.0,798.0 368.0,798.0 368.0,798.0 370.0,798.0 370.0,799.0 372.0,799.0 372.0,799.0 374.0,799.0 374.0,800.0 376.0,800.0 376.0,799.0 378.0,799.0 378.0,798.0 380.0,798.0 380.0,800.0 382.0,800.0 382.0,799.0 384.0,799.0 384.0,798.0 386.0,798.0 386.0,798.0 388.0,798.0 388.0,799.0 390.0,799.0 390.0,800.0 392.0,800.0 392.0,799.0 394.0,799.0 394.0,800.0 396.0,800.0 396.0,798.0 398.0,798.0 398.0,800.0 400.0,800.0 400.0,800.0 402.0,800.0 402.0,799.0 404.0,799.0 404.0,800.0 406.0,800.0 406.0,800.0 408.0,800.0 408.0,799.0 410.0,799.0 410.0,799.0 412.0,799.0 412.0,800.0 414.0,800.0 414.0,799.0 416.0,799.0 416.0,800.0 418.0,800.0 418.0,800.0 420.0,800.0 420.0,801.0 422.0,801.0 422.0,800.0 424.0,800.0 424.0,800.0 426.0,800.0 426.0,800.0 428.0,800.0 428.0,799.0 430.0,799.0 430.0,799.0 432.0,799.0 432.0,800.0 434.0,800.0 434.0,800.0 436.0,800.0 436.0,801.0 438.0,801.0 438.0,800.0 440.0,800.0 440.0,799.0 442.0,799.0 442.0,799.0 444.0,799.0 444.0,801.0 446.0,801.0 446.0,799.0 448.0,799.0 448.0,800.0 450.0,800.0 450.0,801.0 452.0,801.0 452.0,800.0 454.0,800.0 454.0,800.0 456.0,800.0 456.0,801.0 458.0,801.0 458.0,801.0 460.0,801.0 460.0,799.0 462.0,799.0 462.0,801.0 464.0,801.0 464.0,801.0 466.0,801.0 466.0,799.0 468.0,799.0 468.0,799.0 470.0,799.0 470.0,800.0 472.0,800.0 472.0,800.0 474.0,800.0 474.0,800.0 476.0,800.0 476.0,799.0 478.0,799.0 478.0,800.0 480.0,800.0 480.0,801.0 482.0,801.0 482.0,801.0 484.0,801.0 484.0,800.0 486.0,800.0 486.0,801.0 488.0,801.0 488.0,800.0 490.0,800.0 490.0,800.0 492.0,800.0 492.0,801.0 494.0,801.0 494.0,800.0 496.0,800.0 496.0,802.0 498.0,802.0 498.0,801.0 500.0,801.0 500.0,800.0 502.0,800.0 502.0,802.0 504.0,802.0 504.0,800.0 506.0,800.0 506.0,802.0 508.0,802.0 508.0,800.0 510.0,800.0 510.0,800.0 512.0,800.0 512.0,801.0 514.0,801.0 514.0,800.0 516.0,800.0 516.0,800.0 518.0,800.0 518.0,802.0 520.0,802.0 520.0,802.0 522.0,802.0 522.0,801.0 524.0,801.0 524.0,800.0 526.0,800.0 526.0,801.0 528.0,801.0 528.0,802.0 530.0,802.0 530.0,800.0 532.0,800.0 532.0,801.0 534.0,801.0 534.0,801.0 536.0,801.0 536.0,801.0 538.0,801.0 538.0,800.0 540.0,800.0 540.0,802.0 542.0,802.0 542.0,802.0 544.0,802.0 544.0,802.0 546.0,802.0 546.0,801.0 548.0,801.0 548.0,800.0 550.0,800.0 550.0,800.0 552.0,800.0 552.0,802.0 554.0,802.0 554.0,801.0 556.0,801.0 556.0,801.0 558.0,801.0 558.0,800.0 560.0,800.0 560.0,801.0 562.0,801.0 562.0,802.0 564.0,802.0 564.0,801.0 566.0,801.0 566.0,801.0 568.0,801.0 568.0,802.0 570.0,802.0 570.0,802.0 572.0,802.0 572.0,802.0 574.0,802.0 574.0,802.0 576.0,802.0 576.0,801.0 578.0,801.0 578.0,800.0 580.0,800.0 580.0,801.0 582.0,801.0 582.0,801.0 584.0,801.0 584.0,802.0 586.0,802.0 586.0,802.0 588.0,802.0 588.0,802.0 590.0,802.0 590.0,801.0 592.0,801.0 592.0,802.0 594.0,802.0 594.0,801.0 596.0,801.0 596.0,801.0 598.0,801.0 598.0,801.0 600.0,801.0 600.0,801.0 602.0,801.0 602.0,802.0 604.0,802.0 604.0,801.0 606.0,801.0 606.0,800.0 608.0,800.0 608.0,801.0 610.0,801.0 610.0,801.0 612.0,801.0 612.0,800.0 614.0,800.0 614.0,801.0 616.0,801.0 616.0,802.0 618.0,802.0 618.0,803.0 620.0,803.0 620.0,803.0 622.0,803.0 622.0,801.0 624.0,801.0 624.0,801.0 626.0,801.0 626.0,801.0 628.0,801.0 628.0,800.0 630.0,800.0 630.0,801.0 632.0,801.0 632.0,801.0 634.0,801.0 634.0,800.0 636.0,800.0 636.0,801.0 638.0,801.0 638.0,800.0 640.0,800.0 640.0,800.0 642.0,800.0 642.0,802.0 644.0,802.0 644.0,800.0 646.0,800.0 646.0,801.0 648.0,801.0 648.0,801.0 650.0,801.0 650.0,802.0 652.0,802.0 652.0,801.0 654.0,801.0 654.0,802.0 656.0,802.0 656.0,802.0 658.0,802.0 658.0,802.0 660.0,802.0 660.0,802.0 662.0,802.0 662.0,800.0 664.0,800.0 664.0,800.0 666.0,800.0 666.0,800.0 668.0,800.0 668.0,800.0 670.0,800.0 670.0,801.0 672.0,801.0 672.0,800.0 674.0,800.0 674.0,799.0 676.0,799.0 676.0,799.0 678.0,799.0 678.0,798.0 680.0,798.0 680.0,797.0 682.0,797.0 682.0,795.0 684.0,795.0 684.0,795.0 686.0,795.0 686.0,795.0 688.0,795.0 688.0,796.0 690.0,796.0 690.0,795.0 692.0,795.0 692.0,795.0 694.0,795.0 694.0,796.0 696.0,796.0 696.0,795.0 698.0,795.0 698.0,795.0 700.0,795.0 700.0,795.0 702.0,795.0 702.0,795.0 704.0,795.0 704.0,795.0 706.0,795.0 706.0,796.0 708.0,796.0 708.0,795.0 710.0,795.0 710.0,795.0 712.0,795.0 712.0,796.0 714.0,796.0 714.0,795.0 716.0,795.0 716.0,795.0 718.0,795.0 718.0,794.0 720.0,794.0 720.0,795.0 722.0,795.0 722.0,795.0 724.0,795.0 724.0,795.0 726.0,795.0 726.0,795.0 728.0,795.0 728.0,797.0 730.0,797.0 730.0,798.0 732.0,798.0 732.0,799.0 734.0,799.0 734.0,799.0 736.0,799.0 736.0,799.0 738.0,799.0 738.0,801.0 740.0,801.0 740.0,801.0 742.0,801.0 742.0,802.0 744.0,802.0 744.0,801.0 746.0,801.0 746.0,801.0 748.0,801.0 748.0,800.0 750.0,800.0 750.0,801.0 752.0,801.0 752.0,801.0 754.0,801.0 754.0,801.0 756.0,801.0 756.0,802.0 758.0,802.0 758.0,802.0 760.0,802.0 760.0,801.0 762.0,801.0 762.0,800.0 764.0,800.0 764.0,798.0 766.0,798.0 766.0,797.0 768.0,797.0 768.0,797.0 770.0,797.0 770.0,796.0 772.0,796.0 772.0,797.0 774.0,797.0 774.0,792.0 776.0,792.0 776.0,799.0 778.0,799.0 778.0,799.0 780.0,799.0 780.0,800.0 782.0,800.0 782.0,800.0 784.0,800.0 784.0,802.0 786.0,802.0 786.0,804.0 788.0,804.0 788.0,807.0 790.0,807.0 790.0,808.0 792.0,808.0 792.0,810.0 794.0,810.0 794.0,813.0 796.0,813.0 796.0,816.0 798.0,816.0 798.0,815.0 800.0,815.0 800.0,817.0 802.0,817.0 802.0,817.0 804.0,817.0 804.0,816.0 806.0,816.0 806.0,798.0 808.0,798.0 808.0,798.0 810.0,798.0 810.0,807.0 812.0,807.0 812.0,806.0 814.0,806.0 814.0,805.0 816.0,805.0 816.0,803.0 818.0,803.0 818.0,799.0 820.0,799.0 820.0,798.0 822.0,798.0 822.0,795.0 824.0,795.0 824.0,793.0 826.0,793.0 826.0,791.0 828.0,791.0 828.0,787.0 830.0,787.0 830.0,785.0 832.0,785.0 832.0,783.0 834.0,783.0 834.0,781.0 836.0,781.0 836.0,780.0 838.0,780.0 838.0,776.0 840.0,776.0 840.0,775.0 842.0,775.0 842.0,773.0 844.0,773.0 844.0,772.0 846.0,772.0 846.0,769.0 848.0,769.0 848.0,766.0 850.0,766.0 850.0,758.0 852.0,758.0 852.0,758.0 854.0,758.0 854.0,759.0 856.0,759.0 856.0,756.0 858.0,756.0 858.0,751.0 860.0,751.0 860.0,746.0 862.0,746.0 862.0,742.0 864.0,742.0 864.0,740.0 865.0,740.0 865.0,755.0 864.0,755.0 864.0,760.0 862.0,760.0 862.0,765.0 860.0,765.0 860.0,767.0 858.0,767.0 858.0,769.0 856.0,769.0 856.0,773.0 854.0,773.0 854.0,775.0 852.0,775.0 852.0,777.0 850.0,777.0 850.0,778.0 848.0,778.0 848.0,779.0 846.0,779.0 846.0,781.0 844.0,781.0 844.0,783.0 842.0,783.0 842.0,784.0 840.0,784.0 840.0,788.0 838.0,788.0 838.0,789.0 836.0,789.0 836.0,791.0 834.0,791.0 834.0,795.0 832.0,795.0 832.0,797.0 830.0,797.0 830.0,799.0 828.0,799.0 828.0,801.0 826.0,801.0 826.0,803.0 824.0,803.0 824.0,806.0 822.0,806.0 822.0,808.0 820.0,808.0 820.0,810.0 818.0,810.0 818.0,813.0 816.0,813.0 816.0,815.0 814.0,815.0 814.0,819.0 812.0,819.0 812.0,823.0 810.0,823.0 810.0,825.0 808.0,825.0 808.0,825.0 806.0,825.0 806.0,823.0 804.0,823.0 804.0,824.0 802.0,824.0 802.0,823.0 800.0,823.0 800.0,823.0 798.0,823.0 798.0,823.0 796.0,823.0 796.0,822.0 794.0,822.0 794.0,822.0 792.0,822.0 792.0,818.0 790.0,818.0 790.0,815.0 788.0,815.0 788.0,814.0 786.0,814.0 786.0,811.0 784.0,811.0 784.0,810.0 782.0,810.0 782.0,808.0 780.0,808.0 780.0,804.0 778.0,804.0 778.0,804.0 776.0,804.0 776.0,805.0 774.0,805.0 774.0,805.0 772.0,805.0 772.0,805.0 770.0,805.0 770.0,803.0 768.0,803.0 768.0,804.0 766.0,804.0 766.0,807.0 764.0,807.0 764.0,807.0 762.0,807.0 762.0,807.0 760.0,807.0 760.0,808.0 758.0,808.0 758.0,808.0 756.0,808.0 756.0,808.0 754.0,808.0 754.0,807.0 752.0,807.0 752.0,807.0 750.0,807.0 750.0,805.0 748.0,805.0 748.0,806.0 746.0,806.0 746.0,807.0 744.0,807.0 744.0,807.0 742.0,807.0 742.0,805.0 740.0,805.0 740.0,806.0 738.0,806.0 738.0,805.0 736.0,805.0 736.0,805.0 734.0,805.0 734.0,804.0 732.0,804.0 732.0,803.0 730.0,803.0 730.0,801.0 728.0,801.0 728.0,801.0 726.0,801.0 726.0,800.0 724.0,800.0 724.0,800.0 722.0,800.0 722.0,800.0 720.0,800.0 720.0,800.0 718.0,800.0 718.0,799.0 716.0,799.0 716.0,799.0 714.0,799.0 714.0,799.0 712.0,799.0 712.0,799.0 710.0,799.0 710.0,800.0 708.0,800.0 708.0,799.0 706.0,799.0 706.0,801.0 704.0,801.0 704.0,799.0 702.0,799.0 702.0,800.0 700.0,800.0 700.0,800.0 698.0,800.0 698.0,800.0 696.0,800.0 696.0,800.0 694.0,800.0 694.0,800.0 692.0,800.0 692.0,799.0 690.0,799.0 690.0,800.0 688.0,800.0 688.0,800.0 686.0,800.0 686.0,800.0 684.0,800.0 684.0,800.0 682.0,800.0 682.0,802.0 680.0,802.0 680.0,803.0 678.0,803.0 678.0,804.0 676.0,804.0 676.0,805.0 674.0,805.0 674.0,804.0 672.0,804.0 672.0,804.0 670.0,804.0 670.0,804.0 668.0,804.0 668.0,806.0 666.0,806.0 666.0,805.0 664.0,805.0 664.0,806.0 662.0,806.0 662.0,806.0 660.0,806.0 660.0,805.0 658.0,805.0 658.0,806.0 656.0,806.0 656.0,805.0 654.0,805.0 654.0,805.0 652.0,805.0 652.0,805.0 650.0,805.0 650.0,807.0 648.0,807.0 648.0,805.0 646.0,805.0 646.0,805.0 644.0,805.0 644.0,806.0 642.0,806.0 642.0,805.0 640.0,805.0 640.0,805.0 638.0,805.0 638.0,806.0 636.0,806.0 636.0,806.0 634.0,806.0 634.0,805.0 632.0,805.0 632.0,806.0 630.0,806.0 630.0,805.0 628.0,805.0 628.0,805.0 626.0,805.0 626.0,807.0 624.0,807.0 624.0,808.0 622.0,808.0 622.0,807.0 620.0,807.0 620.0,809.0 618.0,809.0 618.0,808.0 616.0,808.0 616.0,807.0 614.0,807.0 614.0,806.0 612.0,806.0 612.0,806.0 610.0,806.0 610.0,806.0 608.0,806.0 608.0,806.0 606.0,806.0 606.0,806.0 604.0,806.0 604.0,806.0 602.0,806.0 602.0,806.0 600.0,806.0 600.0,805.0 598.0,805.0 598.0,805.0 596.0,805.0 596.0,805.0 594.0,805.0 594.0,807.0 592.0,807.0 592.0,805.0 590.0,805.0 590.0,805.0 588.0,805.0 588.0,806.0 586.0,806.0 586.0,807.0 584.0,807.0 584.0,806.0 582.0,806.0 582.0,807.0 580.0,807.0 580.0,806.0 578.0,806.0 578.0,805.0 576.0,805.0 576.0,806.0 574.0,806.0 574.0,806.0 572.0,806.0 572.0,806.0 570.0,806.0 570.0,806.0 568.0,806.0 568.0,805.0 566.0,805.0 566.0,805.0 564.0,805.0 564.0,805.0 562.0,805.0 562.0,806.0 560.0,806.0 560.0,806.0 558.0,806.0 558.0,805.0 556.0,805.0 556.0,805.0 554.0,805.0 554.0,806.0 552.0,806.0 552.0,805.0 550.0,805.0 550.0,805.0 548.0,805.0 548.0,806.0 546.0,806.0 546.0,805.0 544.0,805.0 544.0,805.0 542.0,805.0 542.0,806.0 540.0,806.0 540.0,805.0 538.0,805.0 538.0,805.0 536.0,805.0 536.0,805.0 534.0,805.0 534.0,805.0 532.0,805.0 532.0,805.0 530.0,805.0 530.0,806.0 528.0,806.0 528.0,806.0 526.0,806.0 526.0,806.0 524.0,806.0 524.0,806.0 522.0,806.0 522.0,805.0 520.0,805.0 520.0,805.0 518.0,805.0 518.0,805.0 516.0,805.0 516.0,805.0 514.0,805.0 514.0,806.0 512.0,806.0 512.0,805.0 510.0,805.0 510.0,805.0 508.0,805.0 508.0,805.0 506.0,805.0 506.0,804.0 504.0,804.0 504.0,804.0 502.0,804.0 502.0,805.0 500.0,805.0 500.0,805.0 498.0,805.0 498.0,806.0 496.0,806.0 496.0,804.0 494.0,804.0 494.0,806.0 492.0,806.0 492.0,805.0 490.0,805.0 490.0,805.0 488.0,805.0 488.0,806.0 486.0,806.0 486.0,804.0 484.0,804.0 484.0,805.0 482.0,805.0 482.0,805.0 480.0,805.0 480.0,805.0 478.0,805.0 478.0,805.0 476.0,805.0 476.0,804.0 474.0,804.0 474.0,804.0 472.0,804.0 472.0,806.0 470.0,806.0 470.0,805.0 468.0,805.0 468.0,804.0 466.0,804.0 466.0,805.0 464.0,805.0 464.0,805.0 462.0,805.0 462.0,804.0 460.0,804.0 460.0,804.0 458.0,804.0 458.0,804.0 456.0,804.0 456.0,804.0 454.0,804.0 454.0,805.0 452.0,805.0 452.0,805.0 450.0,805.0 450.0,804.0 448.0,804.0 448.0,805.0 446.0,805.0 446.0,805.0 444.0,805.0 444.0,804.0 442.0,804.0 442.0,805.0 440.0,805.0 440.0,804.0 438.0,804.0 438.0,805.0 436.0,805.0 436.0,803.0 434.0,803.0 434.0,803.0 432.0,803.0 432.0,805.0 430.0,805.0 430.0,805.0 428.0,805.0 428.0,803.0 426.0,803.0 426.0,803.0 424.0,803.0 424.0,804.0 422.0,804.0 422.0,805.0 420.0,805.0 420.0,805.0 418.0,805.0 418.0,804.0 416.0,804.0 416.0,804.0 414.0,804.0 414.0,803.0 412.0,803.0 412.0,803.0 410.0,803.0 410.0,805.0 408.0,805.0 408.0,804.0 406.0,804.0 406.0,803.0 404.0,803.0 404.0,804.0 402.0,804.0 402.0,803.0 400.0,803.0 400.0,805.0 398.0,805.0 398.0,804.0 396.0,804.0 396.0,803.0 394.0,803.0 394.0,804.0 392.0,804.0 392.0,804.0 390.0,804.0 390.0,804.0 388.0,804.0 388.0,803.0 386.0,803.0 386.0,804.0 384.0,804.0 384.0,803.0 382.0,803.0 382.0,803.0 380.0,803.0 380.0,803.0 378.0,803.0 378.0,803.0 376.0,803.0 376.0,803.0 374.0,803.0 374.0,803.0 372.0,803.0 372.0,803.0 370.0,803.0 370.0,802.0 368.0,802.0 368.0,803.0 366.0,803.0 366.0,803.0 364.0,803.0 364.0,803.0 362.0,803.0 362.0,803.0 360.0,803.0 360.0,802.0 358.0,802.0 358.0,804.0 356.0,804.0 356.0,804.0 354.0,804.0 354.0,804.0 352.0,804.0 352.0,804.0 350.0,804.0 350.0,803.0 348.0,803.0 348.0,802.0 346.0,802.0 346.0,803.0 344.0,803.0 344.0,803.0 342.0,803.0 342.0,802.0 340.0,802.0 340.0,803.0 338.0,803.0 338.0,803.0 336.0,803.0 336.0,803.0 334.0,803.0 334.0,803.0 332.0,803.0 332.0,803.0 330.0,803.0 330.0,802.0 328.0,802.0 328.0,802.0 326.0,802.0 326.0,802.0 324.0,802.0 324.0,801.0 322.0,801.0 322.0,803.0 320.0,803.0 320.0,802.0 318.0,802.0 318.0,801.0 316.0,801.0 316.0,802.0 314.0,802.0 314.0,801.0 312.0,801.0 312.0,802.0 310.0,802.0 310.0,801.0 308.0,801.0 308.0,802.0 306.0,802.0 306.0,802.0 304.0,802.0 304.0,802.0 302.0,802.0 302.0,802.0 300.0,802.0 300.0,802.0 298.0,802.0 298.0,802.0 296.0,802.0 296.0,801.0 294.0,801.0 294.0,800.0 292.0,800.0 292.0,802.0 290.0,802.0 290.0,802.0 288.0,802.0 288.0,801.0 286.0,801.0 286.0,802.0 284.0,802.0 284.0,802.0 282.0,802.0 282.0,802.0 280.0,802.0 280.0,800.0 278.0,800.0 278.0,800.0 276.0,800.0 276.0,801.0 274.0,801.0 274.0,801.0 272.0,801.0 272.0,801.0 270.0,801.0 270.0,801.0 268.0,801.0 268.0,801.0 266.0,801.0" fill="#454545"/>
<polygon points="862.0,750.0 864.0,750.0 864.0,718.0 866.0,718.0 866.0,738.0 868.0,738.0 868.0,725.0 870.0,725.0 870.0,705.0 872.0,705.0 872.0,695.0 874.0,695.0 874.0,692.0 876.0,692.0 876.0,688.0 878.0,688.0 878.0,679.0 880.0,679.0 880.0,674.0 882.0,674.0 882.0,671.0 884.0,671.0 884.0,670.0 886.0,670.0 886.0,668.0 888.0,668.0 888.0,666.0 890.0,666.0 890.0,666.0 892.0,666.0 892.0,662.0 894.0,662.0 894.0,662.0 896.0,662.0 896.0,661.0 898.0,661.0 898.0,659.0 900.0,659.0 900.0,660.0 902.0,660.0 902.0,645.0 904.0,645.0 904.0,645.0 906.0,645.0 906.0,661.0 908.0,661.0 908.0,661.0 910.0,661.0 910.0,659.0 912.0,659.0 912.0,660.0 914.0,660.0 914.0,665.0 916.0,665.0 916.0,667.0 918.0,667.0 918.0,670.0 920.0,670.0 920.0,673.0 922.0,673.0 922.0,673.0 924.0,673.0 924.0,675.0 926.0,675.0 926.0,700.0 924.0,700.0 924.0,705.0 922.0,705.0 922.0,709.0 920.0,709.0 920.0,710.0 918.0,710.0 918.0,713.0 916.0,713.0 916.0,711.0 914.0,711.0 914.0,704.0 912.0,704.0 912.0,699.0 910.0,699.0 910.0,699.0 908.0,699.0 908.0,691.0 906.0,691.0 906.0,682.0 904.0,682.0 904.0,681.0 902.0,681.0 902.0,681.0 900.0,681.0 900.0,683.0 898.0,683.0 898.0,682.0 896.0,682.0 896.0,684.0 894.0,684.0 894.0,685.0 892.0,685.0 892.0,686.0 890.0,686.0 890.0,689.0 888.0,689.0 888.0,691.0 886.0,691.0 886.0,696.0 884.0,696.0 884.0,698.0 882.0,698.0 882.0,699.0 880.0,699.0 880.0,702.0 878.0,702.0 878.0,710.0 876.0,710.0 876.0,722.0 874.0,722.0 874.0,732.0 872.0,732.0 872.0,749.0 870.0,749.0 870.0,754.0 868.0,754.0 868.0,759.0 866.0,759.0 866.0,760.0 864.0,760.0 864.0,759.0 862.0,759.0" fill="#454545"/>
<polygon points="924.0,675.0 926.0,675.0 926.0,678.0 928.0,678.0 928.0,680.0 930.0,680.0 930.0,681.0 932.0,681.0 932.0,684.0 934.0,684.0 934.0,686.0 936.0,686.0 936.0,691.0 938.0,691.0 938.0,692.0 940.0,692.0 940.0,693.0 942.0,693.0 942.0,694.0 944.0,694.0 944.0,695.0 946.0,695.0 946.0,696.0 948.0,696.0 948.0,690.0 950.0,690.0 950.0,691.0 952.0,691.0 952.0,694.0 954.0,694.0 954.0,695.0 956.0,695.0 956.0,698.0 958.0,698.0 958.0,695.0 960.0,695.0 960.0,696.0 962.0,696.0 962.0,697.0 964.0,697.0 964.0,699.0 966.0,699.0 966.0,700.0 968.0,700.0 968.0,701.0 970.0,701.0 970.0,699.0 972.0,699.0 972.0,702.0 974.0,702.0 974.0,705.0 976.0,705.0 976.0,700.0 978.0,700.0 978.0,700.0 980.0,700.0 980.0,703.0 982.0,703.0 982.0,703.0 984.0,703.0 984.0,700.0 986.0,700.0 986.0,700.0 988.0,700.0 988.0,704.0 990.0,704.0 990.0,704.0 992.0,704.0 992.0,703.0 994.0,703.0 994.0,697.0 996.0,697.0 996.0,707.0 998.0,707.0 998.0,705.0 1000.0,705.0 1000.0,705.0 1002.0,705.0 1002.0,700.0 1004.0,700.0 1004.0,705.0 1006.0,705.0 1006.0,701.0 1008.0,701.0 1008.0,701.0 1010.0,701.0 1010.0,704.0 1012.0,704.0 1012.0,703.0 1014.0,703.0 1014.0,708.0 1016.0,708.0 1016.0,717.0 1018.0,717.0 1018.0,714.0 1020.0,714.0 1020.0,713.0 1022.0,713.0 1022.0,714.0 1024.0,714.0 1024.0,714.0 1026.0,714.0 1026.0,717.0 1028.0,717.0 1028.0,718.0 1030.0,718.0 1030.0,718.0 1032.0,718.0 1032.0,719.0 1034.0,719.0 1034.0,720.0 1036.0,720.0 1036.0,713.0 1038.0,713.0 1038.0,715.0 1040.0,715.0 1040.0,719.0 1042.0,719.0 1042.0,719.0 1044.0,719.0 1044.0,718.0 1046.0,718.0 1046.0,717.0 1048.0,717.0 1048.0,717.0 1050.0,717.0 1050.0,725.0 1052.0,725.0 1052.0,720.0 1054.0,720.0 1054.0,719.0 1056.0,719.0 1056.0,722.0 1058.0,722.0 1058.0,724.0 1060.0,724.0 1060.0,727.0 1062.0,727.0 1062.0,725.0 1064.0,725.0 1064.0,726.0 1066.0,726.0 1066.0,725.0 1068.0,725.0 1068.0,726.0 1070.0,726.0 1070.0,722.0 1072.0,722.0 1072.0,726.0 1074.0,726.0 1074.0,728.0 1076.0,728.0 1076.0,728.0 1078.0,728.0 1078.0,728.0 1080.0,728.0 1080.0,729.0 1082.0,729.0 1082.0,728.0 1084.0,728.0 1084.0,729.0 1086.0,729.0 1086.0,730.0 1088.0,730.0 1088.0,720.0 1090.0,720.0 1090.0,722.0 1092.0,722.0 1092.0,735.0 1094.0,735.0 1094.0,734.0 1096.0,734.0 1096.0,735.0 1098.0,735.0 1098.0,735.0 1100.0,735.0 1100.0,735.0 1102.0,735.0 1102.0,734.0 1104.0,734.0 1104.0,735.0 1106.0,735.0 1106.0,738.0 1108.0,738.0 1108.0,737.0 1110.0,737.0 1110.0,738.0 1112.0,738.0 1112.0,737.0 1114.0,737.0 1114.0,739.0 1116.0,739.0 1116.0,739.0 1118.0,739.0 1118.0,740.0 1120.0,740.0 1120.0,738.0 1122.0,738.0 1122.0,737.0 1124.0,737.0 1124.0,737.0 1126.0,737.0 1126.0,738.0 1128.0,738.0 1128.0,741.0 1130.0,741.0 1130.0,742.0 1132.0,742.0 1132.0,740.0 1134.0,740.0 1134.0,743.0 1136.0,743.0 1136.0,743.0 1138.0,743.0 1138.0,741.0 1140.0,741.0 1140.0,738.0 1142.0,738.0 1142.0,738.0 1144.0,738.0 1144.0,734.0 1146.0,734.0 1146.0,744.0 1148.0,744.0 1148.0,744.0 1150.0,744.0 1150.0,745.0 1152.0,745.0 1152.0,747.0 1154.0,747.0 1154.0,740.0 1156.0,740.0 1156.0,740.0 1158.0,740.0 1158.0,745.0 1160.0,745.0 1160.0,745.0 1162.0,745.0 1162.0,747.0 1164.0,747.0 1164.0,748.0 1166.0,748.0 1166.0,747.0 1168.0,747.0 1168.0,748.0 1170.0,748.0 1170.0,747.0 1172.0,747.0 1172.0,746.0 1174.0,746.0 1174.0,747.0 1176.0,747.0 1176.0,748.0 1178.0,748.0 1178.0,744.0 1180.0,744.0 1180.0,745.0 1182.0,745.0 1182.0,745.0 1184.0,745.0 1184.0,748.0 1186.0,748.0 1186.0,750.0 1188.0,750.0 1188.0,751.0 1190.0,751.0 1190.0,745.0 1192.0,745.0 1192.0,744.0 1194.0,744.0 1194.0,735.0 1196.0,735.0 1196.0,749.0 1198.0,749.0 1198.0,749.0 1200.0,749.0 1200.0,750.0 1202.0,750.0 1202.0,749.0 1204.0,749.0 1204.0,748.0 1206.0,748.0 1206.0,748.0 1208.0,748.0 1208.0,748.0 1210.0,748.0 1210.0,749.0 1212.0,749.0 1212.0,752.0 1214.0,752.0 1214.0,748.0 1216.0,748.0 1216.0,750.0 1218.0,750.0 1218.0,749.0 1220.0,749.0 1220.0,749.0 1222.0,749.0 1222.0,748.0 1224.0,748.0 1224.0,747.0 1226.0,747.0 1226.0,749.0 1228.0,749.0 1228.0,749.0 1230.0,749.0 1230.0,751.0 1232.0,751.0 1232.0,749.0 1234.0,749.0 1234.0,755.0 1236.0,755.0 1236.0,755.0 1238.0,755.0 1238.0,754.0 1240.0,754.0 1240.0,754.0 1242.0,754.0 1242.0,755.0 1244.0,755.0 1244.0,757.0 1246.0,757.0 1246.0,756.0 1248.0,756.0 1248.0,757.0 1250.0,757.0 1250.0,758.0 1252.0,758.0 1252.0,753.0 1254.0,753.0 1254.0,754.0 1256.0,754.0 1256.0,753.0 1258.0,753.0 1258.0,758.0 1260.0,758.0 1260.0,758.0 1262.0,758.0 1262.0,758.0 1264.0,758.0 1264.0,751.0 1266.0,751.0 1266.0,747.0 1268.0,747.0 1268.0,759.0 1270.0,759.0 1270.0,758.0 1272.0,758.0 1272.0,756.0 1274.0,756.0 1274.0,760.0 1276.0,760.0 1276.0,760.0 1278.0,760.0 1278.0,757.0 1280.0,757.0 1280.0,759.0 1282.0,759.0 1282.0,758.0 1284.0,758.0 1284.0,759.0 1286.0,759.0 1286.0,760.0 1288.0,760.0 1288.0,759.0 1290.0,759.0 1290.0,759.0 1292.0,759.0 1292.0,761.0 1294.0,761.0 1294.0,762.0 1296.0,762.0 1296.0,762.0 1298.0,762.0 1298.0,762.0 1300.0,762.0 1300.0,762.0 1302.0,762.0 1302.0,760.0 1304.0,760.0 1304.0,759.0 1306.0,759.0 1306.0,759.0 1308.0,759.0 1308.0,761.0 1310.0,761.0 1310.0,761.0 1312.0,761.0 1312.0,760.0 1314.0,760.0 1314.0,761.0 1316.0,761.0 1316.0,766.0 1318.0,766.0 1318.0,763.0 1320.0,763.0 1320.0,763.0 1322.0,763.0 1322.0,759.0 1324.0,759.0 1324.0,759.0 1326.0,759.0 1326.0,760.0 1328.0,760.0 1328.0,766.0 1330.0,766.0 1330.0,759.0 1332.0,759.0 1332.0,760.0 1334.0,760.0 1334.0,764.0 1336.0,764.0 1336.0,763.0 1338.0,763.0 1338.0,764.0 1340.0,764.0 1340.0,763.0 1342.0,763.0 1342.0,765.0 1344.0,765.0 1344.0,764.0 1346.0,764.0 1346.0,765.0 1348.0,765.0 1348.0,764.0 1350.0,764.0 1350.0,767.0 1352.0,767.0 1352.0,759.0 1354.0,759.0 1354.0,766.0 1356.0,766.0 1356.0,766.0 1358.0,766.0 1358.0,766.0 1360.0,766.0 1360.0,761.0 1362.0,761.0 1362.0,761.0 1364.0,761.0 1364.0,760.0 1366.0,760.0 1366.0,762.0 1368.0,762.0 1368.0,768.0 1370.0,768.0 1370.0,767.0 1372.0,767.0 1372.0,761.0 1374.0,761.0 1374.0,798.0 1372.0,798.0 1372.0,796.0 1370.0,796.0 1370.0,796.0 1368.0,796.0 1368.0,796.0 1366.0,796.0 1366.0,793.0 1364.0,793.0 1364.0,796.0 1362.0,796.0 1362.0,795.0 1360.0,795.0 1360.0,797.0 1358.0,797.0 1358.0,796.0 1356.0,796.0 1356.0,794.0 1354.0,794.0 1354.0,794.0 1352.0,794.0 1352.0,794.0 1350.0,794.0 1350.0,796.0 1348.0,796.0 1348.0,796.0 1346.0,796.0 1346.0,796.0 1344.0,796.0 1344.0,798.0 1342.0,798.0 1342.0,794.0 1340.0,794.0 1340.0,794.0 1338.0,794.0 1338.0,800.0 1336.0,800.0 1336.0,799.0 1334.0,799.0 1334.0,800.0 1332.0,800.0 1332.0,796.0 1330.0,796.0 1330.0,797.0 1328.0,797.0 1328.0,794.0 1326.0,794.0 1326.0,795.0 1324.0,795.0 1324.0,798.0 1322.0,798.0 1322.0,797.0 1320.0,797.0 1320.0,795.0 1318.0,795.0 1318.0,799.0 1316.0,799.0 1316.0,795.0 1314.0,795.0 1314.0,798.0 1312.0,798.0 1312.0,797.0 1310.0,797.0 1310.0,796.0 1308.0,796.0 1308.0,792.0 1306.0,792.0 1306.0,792.0 1304.0,792.0 1304.0,792.0 1302.0,792.0 1302.0,793.0 1300.0,793.0 1300.0,793.0 1298.0,793.0 1298.0,793.0 1296.0,793.0 1296.0,791.0 1294.0,791.0 1294.0,795.0 1292.0,795.0 1292.0,794.0 1290.0,794.0 1290.0,792.0 1288.0,792.0 1288.0,793.0 1286.0,793.0 1286.0,795.0 1284.0,795.0 1284.0,795.0 1282.0,795.0 1282.0,792.0 1280.0,792.0 1280.0,792.0 1278.0,792.0 1278.0,794.0 1276.0,794.0 1276.0,794.0 1274.0,794.0 1274.0,793.0 1272.0,793.0 1272.0,796.0 1270.0,796.0 1270.0,796.0 1268.0,796.0 1268.0,793.0 1266.0,793.0 1266.0,793.0 1264.0,793.0 1264.0,792.0 1262.0,792.0 1262.0,792.0 1260.0,792.0 1260.0,791.0 1258.0,791.0 1258.0,794.0 1256.0,794.0 1256.0,792.0 1254.0,792.0 1254.0,793.0 1252.0,793.0 1252.0,805.0 1250.0,805.0 1250.0,792.0 1248.0,792.0 1248.0,794.0 1246.0,794.0 1246.0,794.0 1244.0,794.0 1244.0,793.0 1242.0,793.0 1242.0,792.0 1240.0,792.0 1240.0,790.0 1238.0,790.0 1238.0,797.0 1236.0,797.0 1236.0,797.0 1234.0,797.0 1234.0,795.0 1232.0,795.0 1232.0,796.0 1230.0,796.0 1230.0,795.0 1228.0,795.0 1228.0,792.0 1226.0,792.0 1226.0,794.0 1224.0,794.0 1224.0,793.0 1222.0,793.0 1222.0,796.0 1220.0,796.0 1220.0,793.0 1218.0,793.0 1218.0,793.0 1216.0,793.0 1216.0,793.0 1214.0,793.0 1214.0,792.0 1212.0,792.0 1212.0,787.0 1210.0,787.0 1210.0,786.0 1208.0,786.0 1208.0,796.0 1206.0,796.0 1206.0,797.0 1204.0,797.0 1204.0,793.0 1202.0,793.0 1202.0,792.0 1200.0,792.0 1200.0,788.0 1198.0,788.0 1198.0,788.0 1196.0,788.0 1196.0,790.0 1194.0,790.0 1194.0,790.0 1192.0,790.0 1192.0,784.0 1190.0,784.0 1190.0,784.0 1188.0,784.0 1188.0,788.0 1186.0,788.0 1186.0,790.0 1184.0,790.0 1184.0,785.0 1182.0,785.0 1182.0,785.0 1180.0,785.0 1180.0,785.0 1178.0,785.0 1178.0,786.0 1176.0,786.0 1176.0,783.0 1174.0,783.0 1174.0,784.0 1172.0,784.0 1172.0,783.0 1170.0,783.0 1170.0,784.0 1168.0,784.0 1168.0,784.0 1166.0,784.0 1166.0,786.0 1164.0,786.0 1164.0,787.0 1162.0,787.0 1162.0,787.0 1160.0,787.0 1160.0,781.0 1158.0,781.0 1158.0,782.0 1156.0,782.0 1156.0,783.0 1154.0,783.0 1154.0,783.0 1152.0,783.0 1152.0,783.0 1150.0,783.0 1150.0,784.0 1148.0,784.0 1148.0,785.0 1146.0,785.0 1146.0,786.0 1144.0,786.0 1144.0,785.0 1142.0,785.0 1142.0,785.0 1140.0,785.0 1140.0,784.0 1138.0,784.0 1138.0,784.0 1136.0,784.0 1136.0,784.0 1134.0,784.0 1134.0,786.0 1132.0,786.0 1132.0,784.0 1130.0,784.0 1130.0,791.0 1128.0,791.0 1128.0,792.0 1126.0,792.0 1126.0,783.0 1124.0,783.0 1124.0,782.0 1122.0,782.0 1122.0,782.0 1120.0,782.0 1120.0,782.0 1118.0,782.0 1118.0,782.0 1116.0,782.0 1116.0,778.0 1114.0,778.0 1114.0,778.0 1112.0,778.0 1112.0,778.0 1110.0,778.0 1110.0,782.0 1108.0,782.0 1108.0,781.0 1106.0,781.0 1106.0,777.0 1104.0,777.0 1104.0,778.0 1102.0,778.0 1102.0,781.0 1100.0,781.0 1100.0,781.0 1098.0,781.0 1098.0,781.0 1096.0,781.0 1096.0,779.0 1094.0,779.0 1094.0,778.0 1092.0,778.0 1092.0,778.0 1090.0,778.0 1090.0,777.0 1088.0,777.0 1088.0,778.0 1086.0,778.0 1086.0,780.0 1084.0,780.0 1084.0,774.0 1082.0,774.0 1082.0,777.0 1080.0,777.0 1080.0,776.0 1078.0,776.0 1078.0,780.0 1076.0,780.0 1076.0,773.0 1074.0,773.0 1074.0,780.0 1072.0,780.0 1072.0,775.0 1070.0,775.0 1070.0,774.0 1068.0,774.0 1068.0,775.0 1066.0,775.0 1066.0,775.0 1064.0,775.0 1064.0,773.0 1062.0,773.0 1062.0,773.0 1060.0,773.0 1060.0,773.0 1058.0,773.0 1058.0,778.0 1056.0,778.0 1056.0,777.0 1054.0,777.0 1054.0,775.0 1052.0,775.0 1052.0,769.0 1050.0,769.0 1050.0,769.0 1048.0,769.0 1048.0,776.0 1046.0,776.0 1046.0,768.0 1044.0,768.0 1044.0,767.0 1042.0,767.0 1042.0,770.0 1040.0,770.0 1040.0,771.0 1038.0,771.0 1038.0,771.0 1036.0,771.0 1036.0,771.0 1034.0,771.0 1034.0,769.0 1032.0,769.0 1032.0,768.0 1030.0,768.0 1030.0,769.0 1028.0,769.0 1028.0,769.0 1026.0,769.0 1026.0,769.0 1024.0,769.0 1024.0,766.0 1022.0,766.0 1022.0,767.0 1020.0,767.0 1020.0,767.0 1018.0,767.0 1018.0,772.0 1016.0,772.0 1016.0,770.0 1014.0,770.0 1014.0,768.0 1012.0,768.0 1012.0,774.0 1010.0,774.0 1010.0,774.0 1008.0,774.0 1008.0,763.0 1006.0,763.0 1006.0,765.0 1004.0,765.0 1004.0,765.0 1002.0,765.0 1002.0,762.0 1000.0,762.0 1000.0,762.0 998.0,762.0 998.0,761.0 996.0,761.0 996.0,765.0 994.0,765.0 994.0,764.0 992.0,764.0 992.0,767.0 990.0,767.0 990.0,767.0 988.0,767.0 988.0,764.0 986.0,764.0 986.0,763.0 984.0,763.0 984.0,762.0 982.0,762.0 982.0,771.0 980.0,771.0 980.0,772.0 978.0,772.0 978.0,764.0 976.0,764.0 976.0,761.0 974.0,761.0 974.0,761.0 972.0,761.0 972.0,762.0 970.0,762.0 970.0,761.0 968.0,761.0 968.0,762.0 966.0,762.0 966.0,758.0 964.0,758.0 964.0,758.0 962.0,758.0 962.0,764.0 960.0,764.0 960.0,764.0 958.0,764.0 958.0,763.0 956.0,763.0 956.0,765.0 954.0,765.0 954.0,764.0 952.0,764.0 952.0,763.0 950.0,763.0 950.0,756.0 948.0,756.0 948.0,755.0 946.0,755.0 946.0,762.0 944.0,762.0 944.0,762.0 942.0,762.0 942.0,760.0 940.0,760.0 940.0,760.0 938.0,760.0 938.0,754.0 936.0,754.0 936.0,754.0 934.0,754.0 934.0,754.0 932.0,754.0 932.0,754.0 930.0,754.0 930.0,758.0 928.0,758.0 928.0,757.0 926.0,757.0 926.0,757.0 924.0,757.0" fill="#454545"/>
<polygon points="634.0,802.0 637.5,790.0 639.0,788.4 641.0,788.6 643.5,795.0 647.0,802.0" fill="#454545"/>
<polygon points="701.5,799.0 704.5,789.0 706.0,787.5 708.0,788.0 710.0,795.0 713.0,799.0" fill="#676767"/>
<rect x="1012.3" y="718.0" width="1.5" height="50.0" fill="#6f6f6f"/>
<rect x="901.6" y="615.0" width="4.0" height="49.0" fill="#454545"/>
<rect x="901.6" y="630.0" width="5.2" height="34.0" fill="#454545"/>
<rect x="863.4" y="718.0" width="3.6" height="27.0" fill="#454545"/>
<rect x="850.4" y="758.0" width="3.2" height="14.0" fill="#454545"/>
<rect x="806.2" y="798.0" width="3.2" height="24.0" fill="#454545"/>
<rect x="773.6" y="792.0" width="2.6" height="10.0" fill="#454545"/>
<rect x="627.4" y="776.5" width="4.0" height="25.5" fill="#454545"/>
<rect x="686.2" y="767.0" width="3.6" height="35.0" fill="#454545"/>
<rect x="688.4" y="779.0" width="2.4" height="23.0" fill="#454545"/>
</g>
<g fill="none" stroke="#000" stroke-width="7.4" stroke-linecap="butt">
</g>
<g fill="#000">
<rect x="258" y="8" width="8" height="857.6"/>
<rect x="1373.3" y="8" width="7.3" height="857.6"/>
<rect x="258" y="8" width="1122.6" height="6.8"/>
<rect x="258" y="858.2" width="1122.6" height="7.4"/>
</g>
<g fill="none" stroke="#000" stroke-width="7.4" stroke-linecap="butt">
<line x1="262" y1="798.0" x2="279.5" y2="798.0" stroke-width="7.2"/>
<line x1="262" y1="628.0" x2="279.5" y2="628.0" stroke-width="7.2"/>
<line x1="262" y1="458.0" x2="279.5" y2="458.0" stroke-width="7.2"/>
<line x1="262" y1="287.9" x2="279.5" y2="287.9" stroke-width="7.2"/>
<line x1="262" y1="117.9" x2="279.5" y2="117.9" stroke-width="7.2"/>
<line x1="262" y1="713.0" x2="269.8" y2="713.0" stroke-width="6.8"/>
<line x1="262" y1="543.0" x2="269.8" y2="543.0" stroke-width="6.8"/>
<line x1="262" y1="372.9" x2="269.8" y2="372.9" stroke-width="6.8"/>
<line x1="262" y1="202.9" x2="269.8" y2="202.9" stroke-width="6.8"/>
<line x1="262" y1="32.9" x2="269.8" y2="32.9" stroke-width="6.8"/>
<line x1="509.1" y1="862" x2="509.1" y2="844" stroke-width="7.4"/>
<line x1="756.9" y1="862" x2="756.9" y2="844" stroke-width="7.4"/>
<line x1="1004.7" y1="862" x2="1004.7" y2="844" stroke-width="7.4"/>
<line x1="1252.5" y1="862" x2="1252.5" y2="844" stroke-width="7.4"/>
<line x1="385.2" y1="862" x2="385.2" y2="853.2" stroke-width="7.4"/>
<line x1="633.0" y1="862" x2="633.0" y2="853.2" stroke-width="7.4"/>
<line x1="880.8" y1="862" x2="880.8" y2="853.2" stroke-width="7.4"/>
<line x1="1128.6" y1="862" x2="1128.6" y2="853.2" stroke-width="7.4"/>
</g>
<text transform="translate(234.0 818.0) scale(1 1.045)" text-anchor="end">0</text>
<text transform="translate(234.0 648.2) scale(1 1.045)" text-anchor="end">400</text>
<text transform="translate(234.0 478.5) scale(1 1.045)" text-anchor="end">800</text>
<text transform="translate(234.0 308.7) scale(1 1.045)" text-anchor="end">1 200</text>
<text transform="translate(234.0 138.9) scale(1 1.045)" text-anchor="end">1 600</text>
<text transform="translate(258.6 929.0) scale(1 1.045)" text-anchor="middle">1</text>
<text transform="translate(506.4 929.0) scale(1 1.045)" text-anchor="middle">2</text>
<text transform="translate(754.2 929.0) scale(1 1.045)" text-anchor="middle">3</text>
<text transform="translate(1002.0 929.0) scale(1 1.045)" text-anchor="middle">4</text>
<text transform="translate(1249.8 929.0) scale(1 1.045)" text-anchor="middle">5</text>
<text transform="translate(772.0 991.8) scale(1 1.045)" text-anchor="start"><tspan font-style="italic">t</tspan>/ms</text>
<text transform="translate(76.2 536.3) rotate(-90) scale(1 1.045)" font-style="italic">P</text>
<text transform="translate(86.4 499.4) rotate(-90) scale(1.0 0.95)" font-size="34.5">max</text>
<text transform="translate(76.2 440.6) rotate(-90) scale(1 1.045)">/kPa</text>
<line x1="936.1" y1="123.8" x2="1064.0" y2="123.8" stroke="#5a5a5a" stroke-width="4"/>
<text transform="translate(1075.0 138.7) scale(1 1.045)" text-anchor="start">0 MPa</text>
<line x1="929.3" y1="172.9" x2="1056.9" y2="172.9" stroke="#858585" stroke-width="4"/>
<text transform="translate(1075.0 193.0) scale(1 1.045)" text-anchor="start">0.20 MPa</text>
<line x1="929.3" y1="231.0" x2="1056.9" y2="231.0" stroke="#666666" stroke-width="4"/>
<text transform="translate(1075.0 247.2) scale(1 1.045)" text-anchor="start">0.25 MPa</text>
<line x1="929.3" y1="286.9" x2="1056.9" y2="286.9" stroke="#444444" stroke-width="4"/>
<text transform="translate(1075.0 302.2) scale(1 1.045)" text-anchor="start">0.30 MPa</text>
</svg>
</body>
</html>
